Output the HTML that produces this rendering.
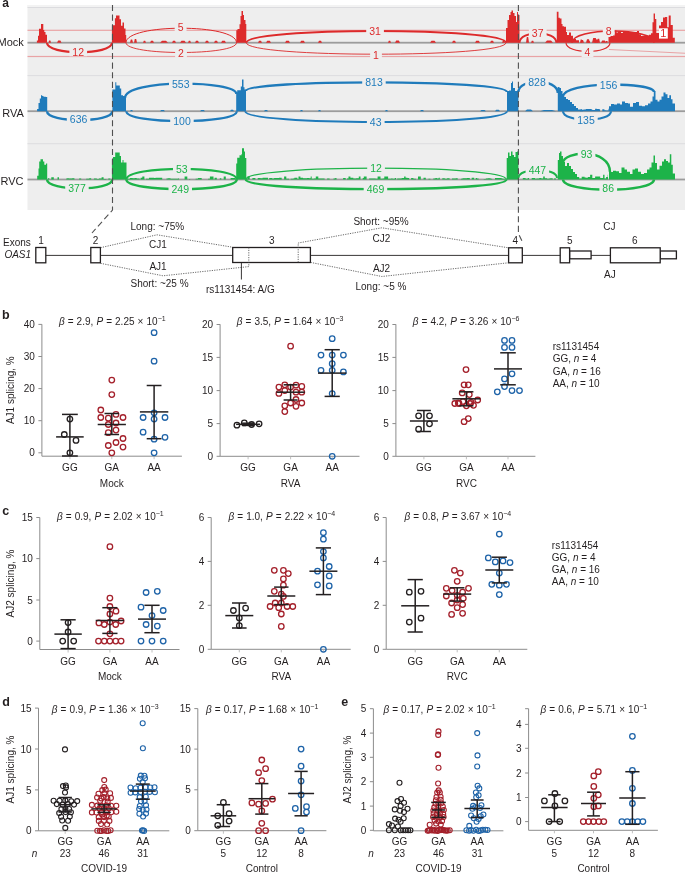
<!DOCTYPE html>
<html><head><meta charset="utf-8"><style>
html,body{margin:0;padding:0;background:#fff;}
svg{display:block;font-family:"Liberation Sans",sans-serif;will-change:transform;}
</style></head><body>
<svg width="685" height="873" viewBox="0 0 685 873">
<rect width="685" height="873" fill="#fff"/>
<rect x="27.5" y="5" width="657.5" height="205" fill="#eeeeee"/>
<rect x="27.5" y="5" width="657.5" height="2" fill="#f3f3f3"/>
<rect x="27.5" y="7.0" width="657.5" height="1" fill="#dcdcdf"/>
<rect x="27.5" y="75.1" width="657.5" height="1" fill="#dcdcdf"/>
<rect x="27.5" y="143.2" width="657.5" height="1" fill="#dcdcdf"/>
<rect x="27.5" y="29.7" width="657.5" height="1.2" fill="#e9a3a5"/>
<rect x="27.5" y="55.9" width="657.5" height="1.2" fill="#e9a3a5"/>
<path d="M609,49.5 L685,53.2" stroke="#e9a3a5" stroke-width="1.1" fill="none"/>
<rect x="27.5" y="41.800000000000004" width="657.5" height="1.8" fill="#9c9c9c"/>
<path d="M36.9,42.7 L36.9,40.4 L38.0,40.4 L38.0,35.8 L39.0,35.8 L39.0,28.7 L41.0,28.7 L41.0,24.1 L43.3,24.1 L43.3,30.1 L44.3,30.1 L44.3,32.0 L45.5,32.0 L45.5,34.8 L47.0,34.8 L47.0,42.7 Z" fill="#dd2a2b"/>
<path d="M48.5,42.7 L49.1,40.6 L50.4,40.6 L51,42.7 Z" fill="#dd2a2b"/><path d="M57,42.7 L58.1,40.4 L60.4,40.4 L61.5,42.7 Z" fill="#dd2a2b"/>
<path d="M111.9,42.7 L111.9,25.3 L114.9,25.3 L114.9,18.3 L116.0,18.3 L116.0,15.5 L119.5,15.5 L119.5,19.2 L121.0,19.2 L121.0,25.8 L122.5,25.8 L122.5,22.5 L124.0,22.5 L124.0,28.6 L125.5,28.6 L125.5,35.0 L126.2,35.0 L126.2,42.7 Z" fill="#dd2a2b"/>
<path d="M236.3,42.7 L236.3,30.3 L237.5,30.3 L237.5,28.9 L239.5,28.9 L239.5,24.2 L240.5,24.2 L240.5,16.0 L241.5,16.0 L241.5,11.1 L243.0,11.1 L243.0,14.9 L244.0,14.9 L244.0,20.0 L245.5,20.0 L245.5,24.0 L246.3,24.0 L246.3,42.7 Z" fill="#dd2a2b"/>
<path d="M506.0,42.7 L506.0,28.0 L507.5,28.0 L507.5,20.0 L509.0,20.0 L509.0,15.0 L510.5,15.0 L510.5,12.0 L511.5,12.0 L511.5,10.5 L513.0,10.5 L513.0,13.0 L514.5,13.0 L514.5,16.0 L516.0,16.0 L516.0,22.0 L517.0,22.0 L517.0,12.0 L518.0,12.0 L518.0,15.0 L519.5,15.0 L519.5,42.7 Z" fill="#dd2a2b"/>
<path d="M556.8,42.7 L556.8,11.8 L558.5,11.8 L558.5,17.7 L559.8,17.7 L559.8,18.6 L561.5,18.6 L561.5,24.0 L562.5,24.0 L562.5,26.3 L564.0,26.3 L564.0,26.7 L566.0,26.7 L566.0,32.1 L567.0,32.1 L567.0,34.9 L569.0,34.9 L569.0,32.6 L571.0,32.6 L571.0,35.8 L573.0,35.8 L573.0,38.9 L576.0,38.9 L576.0,40.3 L579.0,40.3 L579.0,42.7 Z" fill="#dd2a2b"/>
<path d="M130,42.7 L130.8,39.5 L132.2,39.5 L133,42.7 Z" fill="#dd2a2b"/><path d="M134,42.7 L134.8,39.0 L136.2,39.0 L137,42.7 Z" fill="#dd2a2b"/><path d="M143,42.7 L143.8,40.7 L145.2,40.7 L146,42.7 Z" fill="#dd2a2b"/><path d="M150,42.7 L151.0,40.7 L153.0,40.7 L154,42.7 Z" fill="#dd2a2b"/><path d="M160,42.7 L162.0,40.8 L166.0,40.8 L168,42.7 Z" fill="#dd2a2b"/><path d="M172,42.7 L173.0,40.8 L175.0,40.8 L176,42.7 Z" fill="#dd2a2b"/><path d="M180,42.7 L181.5,40.7 L184.5,40.7 L186,42.7 Z" fill="#dd2a2b"/><path d="M188,42.7 L188.8,40.8 L190.2,40.8 L191,42.7 Z" fill="#dd2a2b"/><path d="M195,42.7 L196.0,40.8 L198.0,40.8 L199,42.7 Z" fill="#dd2a2b"/><path d="M205,42.7 L206.0,40.7 L208.0,40.7 L209,42.7 Z" fill="#dd2a2b"/><path d="M214,42.7 L215.0,40.7 L217.0,40.7 L218,42.7 Z" fill="#dd2a2b"/><path d="M221,42.7 L222.2,40.7 L224.8,40.7 L226,42.7 Z" fill="#dd2a2b"/><path d="M258,42.7 L259.0,40.7 L261.0,40.7 L262,42.7 Z" fill="#dd2a2b"/><path d="M266,42.7 L267.2,40.7 L269.8,40.7 L271,42.7 Z" fill="#dd2a2b"/><path d="M285,42.7 L286.2,40.8 L288.8,40.8 L290,42.7 Z" fill="#dd2a2b"/><path d="M300,42.7 L301.2,40.8 L303.8,40.8 L305,42.7 Z" fill="#dd2a2b"/><path d="M318,42.7 L319.0,40.8 L321.0,40.8 L322,42.7 Z" fill="#dd2a2b"/><path d="M388,42.7 L388.8,40.8 L390.2,40.8 L391,42.7 Z" fill="#dd2a2b"/><path d="M395,42.7 L396.2,40.4 L398.8,40.4 L400,42.7 Z" fill="#dd2a2b"/><path d="M430,42.7 L431.5,40.8 L434.5,40.8 L436,42.7 Z" fill="#dd2a2b"/><path d="M452,42.7 L453.0,40.8 L455.0,40.8 L456,42.7 Z" fill="#dd2a2b"/><path d="M475,42.7 L476.2,40.8 L478.8,40.8 L480,42.7 Z" fill="#dd2a2b"/><path d="M490,42.7 L491.0,40.8 L493.0,40.8 L494,42.7 Z" fill="#dd2a2b"/><path d="M502,42.7 L502.8,40.9 L504.2,40.9 L505,42.7 Z" fill="#dd2a2b"/><path d="M526,42.7 L526.8,37.0 L528.2,37.0 L529,42.7 Z" fill="#dd2a2b"/><path d="M531,42.7 L531.8,40.8 L533.2,40.8 L534,42.7 Z" fill="#dd2a2b"/><path d="M545,42.7 L547.0,40.6 L551.0,40.6 L553,42.7 Z" fill="#dd2a2b"/><path d="M580,42.7 L581.0,40.1 L583.0,40.1 L584,42.7 Z" fill="#dd2a2b"/><path d="M586,42.7 L587.0,39.3 L589.0,39.3 L590,42.7 Z" fill="#dd2a2b"/><path d="M592,42.7 L593.2,38.0 L595.8,38.0 L597,42.7 Z" fill="#dd2a2b"/><path d="M597,42.7 L597.8,38.8 L599.2,38.8 L600,42.7 Z" fill="#dd2a2b"/><path d="M601,42.7 L602.2,40.4 L604.8,40.4 L606,42.7 Z" fill="#dd2a2b"/>
<path d="M579.0,42.7 L579.0,42.7 L580.6,42.7 L580.6,39.5 L581.8,39.5 L581.8,42.7 L583.8,42.7 L583.8,42.7 L584.9,42.7 L584.9,42.7 L587.6,42.7 L587.6,41.3 L589.9,41.3 L589.9,42.7 L592.8,42.7 L592.8,42.7 L594.4,42.7 L594.4,41.8 L596.0,41.8 L596.0,39.5 L598.3,39.5 L598.3,42.7 L599.4,42.7 L599.4,42.7 L601.3,42.7 L601.3,42.7 L603.2,42.7 L603.2,42.7 L605.6,42.7 L605.6,41.1 L607.6,41.1 L607.6,42.7 L608.0,42.7 L608.0,42.7 Z" fill="#dd2a2b"/>
<path d="M47,42.7 C47,55.36666666666667 112,55.36666666666667 112,42.7" fill="none" stroke="#dd2a2b" stroke-width="2.2"/>
<path d="M126,42.7 C126,23.366666666666664 236.5,23.366666666666664 236.5,42.7" fill="none" stroke="#dd2a2b" stroke-width="1.0"/>
<path d="M126,42.7 C126,55.766666666666666 236.5,55.766666666666666 236.5,42.7" fill="none" stroke="#dd2a2b" stroke-width="0.9"/>
<path d="M246.3,42.7 C246.3,27.1 506,27.1 506,42.7" fill="none" stroke="#dd2a2b" stroke-width="2.0"/>
<path d="M246.3,42.7 C246.3,58.03333333333334 506,58.03333333333334 506,42.7" fill="none" stroke="#dd2a2b" stroke-width="0.9"/>
<path d="M519.5,42.7 C519.5,30.03333333333334 556.4,30.03333333333334 556.4,42.7" fill="none" stroke="#dd2a2b" stroke-width="2.0"/>
<path d="M572,42.7 C572,27.1 654,27.1 654,42.7" fill="none" stroke="#dd2a2b" stroke-width="1.6"/>
<path d="M566,42.7 C566,54.43333333333333 610,54.43333333333333 610,42.7" fill="none" stroke="#dd2a2b" stroke-width="1.2"/>
<path d="M608.5,42.7 L608.5,37.0 L610.5,37.0 L610.5,35.9 L613.0,35.9 L613.0,34.3 L614.5,34.3 L614.5,30.4 L616.5,30.4 L616.5,32.6 L618.0,32.6 L618.0,31.5 L621.0,31.5 L621.0,33.0 L623.0,33.0 L623.0,31.8 L628.0,31.8 L628.0,32.0 L633.0,32.0 L633.0,33.0 L635.0,33.0 L635.0,32.0 L637.0,32.0 L637.0,31.0 L639.0,31.0 L639.0,34.3 L641.0,34.3 L641.0,35.9 L645.0,35.9 L645.0,35.4 L649.0,35.4 L649.0,34.8 L651.0,34.8 L651.0,33.2 L652.5,33.2 L652.5,22.2 L653.6,22.2 L653.6,13.5 L655.0,13.5 L655.0,19.0 L656.3,19.0 L656.3,33.0 L659.0,33.0 L659.0,25.5 L661.0,25.5 L661.0,22.0 L663.0,22.0 L663.0,17.5 L665.0,17.5 L665.0,17.0 L667.2,17.0 L667.2,27.3 L668.7,27.3 L668.7,15.5 L670.7,15.5 L670.7,25.0 L672.8,25.0 L672.8,37.8 L674.8,37.8 L674.8,42.7 Z" fill="#dd2a2b"/>
<rect x="69.4" y="47.3" width="17.7" height="9" fill="#eeeeee"/>
<text x="78.2" y="55.7" font-size="10.5" fill="#dd2a2b" text-anchor="middle">12</text>
<rect x="174.7" y="22.1" width="11.8" height="9" fill="#eeeeee"/>
<text x="180.6" y="30.5" font-size="10.5" fill="#dd2a2b" text-anchor="middle">5</text>
<rect x="175.1" y="48.8" width="11.8" height="9" fill="#eeeeee"/>
<text x="181" y="57.2" font-size="10.5" fill="#dd2a2b" text-anchor="middle">2</text>
<rect x="366.2" y="26.5" width="17.7" height="9" fill="#eeeeee"/>
<text x="375" y="34.9" font-size="10.5" fill="#dd2a2b" text-anchor="middle">31</text>
<rect x="370.1" y="50.7" width="11.8" height="9" fill="#eeeeee"/>
<text x="376" y="59.1" font-size="10.5" fill="#dd2a2b" text-anchor="middle">1</text>
<rect x="528.9" y="28.8" width="17.7" height="9" fill="#eeeeee"/>
<text x="537.7" y="37.2" font-size="10.5" fill="#dd2a2b" text-anchor="middle">37</text>
<rect x="602.8" y="26.5" width="11.8" height="9" fill="#eeeeee"/>
<text x="608.7" y="34.9" font-size="10.5" fill="#dd2a2b" text-anchor="middle">8</text>
<rect x="581.6" y="48.0" width="11.8" height="9" fill="#eeeeee"/>
<text x="587.5" y="56.4" font-size="10.5" fill="#dd2a2b" text-anchor="middle">4</text>
<rect x="659" y="28.3" width="8.8" height="10.3" fill="#ffffff"/>
<text x="663.4" y="37.2" font-size="11" fill="#dd2a2b" text-anchor="middle" >1</text>
<rect x="27.5" y="110.3" width="657.5" height="1.8" fill="#9c9c9c"/>
<path d="M37.1,111.2 L37.1,109.0 L38.5,109.0 L38.5,103.1 L39.8,103.1 L39.8,98.5 L41.0,98.5 L41.0,95.2 L42.2,95.2 L42.2,95.9 L43.5,95.9 L43.5,96.8 L45.8,96.8 L45.8,97.1 L47.2,97.1 L47.2,111.2 Z" fill="#1f7bbb"/>
<path d="M112.4,111.2 L112.4,89.5 L115.3,89.5 L115.3,82.3 L116.3,82.3 L116.3,85.4 L119.8,85.4 L119.8,88.6 L121.2,88.6 L121.2,95.2 L123.0,95.2 L123.0,96.0 L126.0,96.0 L126.0,111.2 Z" fill="#1f7bbb"/>
<path d="M236.2,111.2 L236.2,92.3 L237.2,92.3 L237.2,90.3 L240.8,90.3 L240.8,86.4 L242.0,86.4 L242.0,79.5 L243.5,79.5 L243.5,87.3 L244.5,87.3 L244.5,89.6 L246.0,89.6 L246.0,111.2 Z" fill="#1f7bbb"/>
<path d="M507.0,111.2 L507.0,91.0 L509.0,91.0 L509.0,90.4 L511.0,90.4 L511.0,83.0 L512.0,83.0 L512.0,81.6 L513.0,81.6 L513.0,88.0 L515.0,88.0 L515.0,91.0 L517.0,91.0 L517.0,90.4 L518.4,90.4 L518.4,111.2 Z" fill="#1f7bbb"/>
<path d="M557.8,111.2 L557.8,87.0 L559.5,87.0 L559.5,88.0 L561.0,88.0 L561.0,91.0 L562.5,91.0 L562.5,94.0 L564.0,94.0 L564.0,97.0 L566.0,97.0 L566.0,99.0 L568.0,99.0 L568.0,100.0 L570.0,100.0 L570.0,102.0 L572.0,102.0 L572.0,104.0 L574.0,104.0 L574.0,106.0 L576.0,106.0 L576.0,108.0 L578.0,108.0 L578.0,111.2 Z" fill="#1f7bbb"/>
<path d="M609.0,111.2 L609.0,106.3 L611.0,106.3 L611.0,104.1 L614.0,104.1 L614.0,104.6 L617.0,104.6 L617.0,103.5 L620.0,103.5 L620.0,104.6 L622.0,104.6 L622.0,101.4 L625.0,101.4 L625.0,103.0 L628.0,103.0 L628.0,103.5 L630.0,103.5 L630.0,106.8 L633.0,106.8 L633.0,103.0 L636.0,103.0 L636.0,101.9 L639.0,101.9 L639.0,105.7 L642.0,105.7 L642.0,106.3 L645.0,106.3 L645.0,105.2 L648.0,105.2 L648.0,103.5 L650.5,103.5 L650.5,101.4 L652.5,101.4 L652.5,96.4 L653.8,96.4 L653.8,91.0 L655.5,91.0 L655.5,99.7 L657.5,99.7 L657.5,101.4 L659.5,101.4 L659.5,99.7 L661.5,99.7 L661.5,96.4 L663.5,96.4 L663.5,92.6 L665.5,92.6 L665.5,94.2 L667.5,94.2 L667.5,98.0 L669.3,98.0 L669.3,95.3 L671.0,95.3 L671.0,99.2 L672.5,99.2 L672.5,103.5 L675.0,103.5 L675.0,111.2 Z" fill="#1f7bbb"/>
<path d="M130,111.2 L130.8,109.9 L132.2,109.9 L133,111.2 Z" fill="#1f7bbb"/><path d="M160,111.2 L161.2,110.0 L163.8,110.0 L165,111.2 Z" fill="#1f7bbb"/><path d="M200,111.2 L201.2,110.0 L203.8,110.0 L205,111.2 Z" fill="#1f7bbb"/><path d="M230,111.2 L231.0,109.8 L233.0,109.8 L234,111.2 Z" fill="#1f7bbb"/><path d="M264,111.2 L265.0,110.0 L267.0,110.0 L268,111.2 Z" fill="#1f7bbb"/><path d="M300,111.2 L300.8,110.0 L302.2,110.0 L303,111.2 Z" fill="#1f7bbb"/><path d="M318,111.2 L318.8,110.0 L320.2,110.0 L321,111.2 Z" fill="#1f7bbb"/><path d="M385,111.2 L385.8,110.0 L387.2,110.0 L388,111.2 Z" fill="#1f7bbb"/><path d="M420,111.2 L421.0,110.0 L423.0,110.0 L424,111.2 Z" fill="#1f7bbb"/><path d="M480,111.2 L481.5,110.0 L484.5,110.0 L486,111.2 Z" fill="#1f7bbb"/><path d="M495,111.2 L496.2,109.8 L498.8,109.8 L500,111.2 Z" fill="#1f7bbb"/><path d="M525,111.2 L527.0,109.5 L531.0,109.5 L533,111.2 Z" fill="#1f7bbb"/><path d="M540,111.2 L544.0,110.0 L552.0,110.0 L556,111.2 Z" fill="#1f7bbb"/><path d="M580,111.2 L580.8,109.3 L582.2,109.3 L583,111.2 Z" fill="#1f7bbb"/>
<path d="M578.0,111.2 L578.0,109.5 L580.6,109.5 L580.6,109.6 L581.6,109.6 L581.6,109.9 L583.3,109.9 L583.3,109.4 L585.8,109.4 L585.8,109.0 L587.2,109.0 L587.2,108.9 L589.8,108.9 L589.8,109.0 L591.0,109.0 L591.0,109.3 L592.2,109.3 L592.2,110.0 L595.1,110.0 L595.1,108.8 L596.8,108.8 L596.8,109.0 L599.1,109.0 L599.1,109.3 L600.1,109.3 L600.1,111.2 L602.3,111.2 L602.3,109.2 L604.4,109.2 L604.4,110.2 L605.8,110.2 L605.8,110.4 L608.5,110.4 L608.5,108.8 L609.0,108.8 L609.0,111.2 Z" fill="#1f7bbb"/>
<path d="M47,111.2 C47,122.93333333333334 112.3,122.93333333333334 112.3,111.2" fill="none" stroke="#1f7bbb" stroke-width="2.4"/>
<path d="M125,98 C125,78.8 236.4,80.13333333333333 236.4,94" fill="none" stroke="#1f7bbb" stroke-width="2.4"/>
<path d="M126.3,111.2 C126.3,124.53333333333333 236.8,124.53333333333333 236.8,111.2" fill="none" stroke="#1f7bbb" stroke-width="2.2"/>
<path d="M245.8,91 C245.8,79.53333333333335 507,79.2 507,92" fill="none" stroke="#1f7bbb" stroke-width="2.4"/>
<path d="M245.2,111.2 C245.2,125.6 507,125.6 507,111.2" fill="none" stroke="#1f7bbb" stroke-width="2.0"/>
<path d="M518.4,92 C518.4,78.26666666666667 557.8,77.93333333333334 557.8,93" fill="none" stroke="#1f7bbb" stroke-width="2.4"/>
<path d="M563,97 C563,80.46666666666665 654,82.13333333333333 654,92" fill="none" stroke="#1f7bbb" stroke-width="2.4"/>
<path d="M563,111.2 C563,122.39999999999999 611,122.39999999999999 611,111.2" fill="none" stroke="#1f7bbb" stroke-width="2.2"/>
<rect x="66.8" y="115.0" width="23.5" height="9" fill="#eeeeee"/>
<text x="78.6" y="123.4" font-size="10.5" fill="#1f7bbb" text-anchor="middle">636</text>
<rect x="169.0" y="79.7" width="23.5" height="9" fill="#eeeeee"/>
<text x="180.8" y="88.1" font-size="10.5" fill="#1f7bbb" text-anchor="middle">553</text>
<rect x="170.2" y="116.5" width="23.5" height="9" fill="#eeeeee"/>
<text x="182" y="124.9" font-size="10.5" fill="#1f7bbb" text-anchor="middle">100</text>
<rect x="362.2" y="77.7" width="23.5" height="9" fill="#eeeeee"/>
<text x="374" y="86.1" font-size="10.5" fill="#1f7bbb" text-anchor="middle">813</text>
<rect x="366.9" y="117.5" width="17.7" height="9" fill="#eeeeee"/>
<text x="375.7" y="125.9" font-size="10.5" fill="#1f7bbb" text-anchor="middle">43</text>
<rect x="525.2" y="77.1" width="23.5" height="9" fill="#eeeeee"/>
<text x="537" y="85.5" font-size="10.5" fill="#1f7bbb" text-anchor="middle">828</text>
<rect x="596.8" y="80.6" width="23.5" height="9" fill="#eeeeee"/>
<text x="608.6" y="89.0" font-size="10.5" fill="#1f7bbb" text-anchor="middle">156</text>
<rect x="574.2" y="115.1" width="23.5" height="9" fill="#eeeeee"/>
<text x="586" y="123.5" font-size="10.5" fill="#1f7bbb" text-anchor="middle">135</text>
<rect x="27.5" y="178.6" width="657.5" height="1.8" fill="#9c9c9c"/>
<path d="M37.2,179.5 L37.2,175.8 L38.5,175.8 L38.5,168.4 L39.2,168.4 L39.2,161.4 L40.5,161.4 L40.5,159.3 L43.0,159.3 L43.0,161.5 L44.3,161.5 L44.3,164.7 L46.0,164.7 L46.0,163.5 L47.2,163.5 L47.2,179.5 Z" fill="#1db349"/>
<path d="M111.9,179.5 L111.9,159.2 L113.0,159.2 L113.0,156.9 L115.2,156.9 L115.2,152.4 L119.7,152.4 L119.7,155.9 L121.0,155.9 L121.0,162.5 L122.5,162.5 L122.5,160.0 L123.5,160.0 L123.5,162.5 L126.5,162.5 L126.5,179.5 Z" fill="#1db349"/>
<path d="M236.2,179.5 L236.2,163.5 L237.2,163.5 L237.2,157.8 L239.5,157.8 L239.5,155.3 L241.5,155.3 L241.5,153.9 L242.0,153.9 L242.0,148.2 L244.0,148.2 L244.0,151.6 L245.0,151.6 L245.0,158.0 L246.3,158.0 L246.3,179.5 Z" fill="#1db349"/>
<path d="M506.7,179.5 L506.7,158.0 L508.0,158.0 L508.0,152.5 L509.5,152.5 L509.5,156.0 L511.0,156.0 L511.0,151.4 L512.5,151.4 L512.5,155.0 L514.0,155.0 L514.0,157.0 L515.5,157.0 L515.5,152.0 L517.0,152.0 L517.0,151.4 L518.4,151.4 L518.4,179.5 Z" fill="#1db349"/>
<path d="M557.8,179.5 L557.8,160.0 L559.0,160.0 L559.0,153.0 L560.0,153.0 L560.0,151.4 L561.5,151.4 L561.5,156.0 L563.0,156.0 L563.0,162.0 L565.0,162.0 L565.0,166.0 L567.0,166.0 L567.0,163.0 L569.0,163.0 L569.0,166.0 L571.0,166.0 L571.0,169.0 L573.0,169.0 L573.0,172.0 L575.0,172.0 L575.0,174.0 L577.0,174.0 L577.0,179.5 Z" fill="#1db349"/>
<path d="M609.0,179.5 L609.0,170.2 L611.0,170.2 L611.0,172.0 L613.0,172.0 L613.0,170.7 L616.0,170.7 L616.0,171.3 L619.0,171.3 L619.0,172.9 L621.5,172.9 L621.5,167.4 L624.5,167.4 L624.5,169.6 L627.0,169.6 L627.0,171.8 L630.0,171.8 L630.0,174.0 L632.5,174.0 L632.5,169.6 L635.0,169.6 L635.0,168.5 L638.0,168.5 L638.0,171.8 L641.0,171.8 L641.0,174.0 L644.0,174.0 L644.0,172.9 L647.0,172.9 L647.0,169.6 L649.5,169.6 L649.5,167.4 L651.5,167.4 L651.5,162.5 L653.5,162.5 L653.5,155.4 L655.0,155.4 L655.0,163.0 L657.0,163.0 L657.0,169.6 L659.5,169.6 L659.5,165.8 L662.0,165.8 L662.0,161.4 L664.0,161.4 L664.0,159.2 L666.0,159.2 L666.0,160.9 L668.0,160.9 L668.0,162.5 L669.8,162.5 L669.8,154.3 L671.3,154.3 L671.3,164.7 L672.8,164.7 L672.8,173.5 L675.0,173.5 L675.0,179.5 Z" fill="#1db349"/>
<path d="M48.0,179.5 L48.0,178.3 L49.3,178.3 L49.3,179.5 L51.3,179.5 L51.3,177.3 L53.8,177.3 L53.8,179.5 L56.5,179.5 L56.5,179.5 L57.5,179.5 L57.5,177.3 L59.0,177.3 L59.0,179.5 L60.0,179.5 L60.0,179.5 L61.8,179.5 L61.8,179.5 L62.8,179.5 L62.8,179.5 L64.8,179.5 L64.8,179.5 L66.3,179.5 L66.3,178.5 L67.3,178.5 L67.3,178.2 L68.7,178.2 L68.7,178.4 L70.4,178.4 L70.4,178.4 L72.2,178.4 L72.2,178.3 L74.4,178.3 L74.4,179.5 L76.5,179.5 L76.5,179.5 L79.1,179.5 L79.1,178.4 L81.2,178.4 L81.2,179.5 L83.1,179.5 L83.1,179.5 L85.2,179.5 L85.2,179.5 L86.2,179.5 L86.2,178.7 L89.2,178.7 L89.2,178.3 L91.2,178.3 L91.2,179.5 L93.9,179.5 L93.9,178.6 L96.8,178.6 L96.8,179.1 L98.9,179.1 L98.9,178.4 L101.6,178.4 L101.6,177.3 L103.6,177.3 L103.6,178.9 L106.3,178.9 L106.3,179.5 L108.3,179.5 L108.3,178.5 L110.4,178.5 L110.4,179.5 L111.0,179.5 L111.0,179.5 Z" fill="#1db349"/>
<path d="M127.0,179.5 L127.0,178.8 L129.9,178.8 L129.9,178.1 L132.6,178.1 L132.6,178.2 L134.8,178.2 L134.8,178.0 L136.7,178.0 L136.7,178.4 L139.6,178.4 L139.6,179.5 L140.6,179.5 L140.6,177.8 L142.3,177.8 L142.3,176.6 L144.4,176.6 L144.4,179.5 L146.0,179.5 L146.0,178.7 L149.0,178.7 L149.0,177.8 L151.6,177.8 L151.6,177.7 L154.2,177.7 L154.2,178.0 L155.5,178.0 L155.5,177.8 L157.6,177.8 L157.6,177.8 L160.3,177.8 L160.3,177.8 L162.2,177.8 L162.2,179.5 L164.1,179.5 L164.1,179.5 L166.5,179.5 L166.5,178.5 L168.1,178.5 L168.1,178.3 L170.5,178.3 L170.5,178.7 L172.7,178.7 L172.7,178.8 L175.5,178.8 L175.5,178.7 L178.0,178.7 L178.0,178.6 L179.1,178.6 L179.1,179.5 L181.9,179.5 L181.9,179.5 L184.6,179.5 L184.6,176.6 L187.3,176.6 L187.3,179.5 L189.1,179.5 L189.1,178.9 L190.2,178.9 L190.2,179.5 L191.3,179.5 L191.3,179.5 L192.6,179.5 L192.6,179.5 L194.3,179.5 L194.3,179.5 L195.6,179.5 L195.6,178.8 L197.9,178.8 L197.9,178.0 L198.9,178.0 L198.9,177.9 L201.7,177.9 L201.7,179.5 L203.7,179.5 L203.7,179.5 L205.3,179.5 L205.3,179.5 L208.1,179.5 L208.1,178.7 L209.9,178.7 L209.9,176.6 L211.4,176.6 L211.4,176.6 L213.5,176.6 L213.5,179.5 L214.6,179.5 L214.6,177.7 L216.8,177.7 L216.8,179.5 L219.8,179.5 L219.8,178.2 L221.3,178.2 L221.3,179.5 L223.7,179.5 L223.7,176.6 L225.8,176.6 L225.8,179.5 L227.6,179.5 L227.6,179.5 L229.1,179.5 L229.1,179.5 L230.6,179.5 L230.6,178.1 L232.5,178.1 L232.5,178.0 L235.3,178.0 L235.3,178.8 L236.0,178.8 L236.0,179.5 Z" fill="#1db349"/>
<path d="M246.0,179.5 L246.0,178.5 L247.5,178.5 L247.5,176.6 L249.7,176.6 L249.7,179.5 L252.4,179.5 L252.4,177.9 L255.4,177.9 L255.4,179.5 L257.7,179.5 L257.7,178.0 L260.4,178.0 L260.4,178.2 L261.5,178.2 L261.5,178.3 L262.6,178.3 L262.6,177.8 L265.4,177.8 L265.4,177.8 L268.0,177.8 L268.0,179.5 L269.2,179.5 L269.2,178.1 L272.1,178.1 L272.1,178.5 L274.1,178.5 L274.1,178.1 L276.3,178.1 L276.3,178.1 L279.0,178.1 L279.0,177.8 L281.7,177.8 L281.7,179.5 L284.1,179.5 L284.1,176.6 L286.3,176.6 L286.3,178.8 L289.0,178.8 L289.0,179.5 L290.8,179.5 L290.8,178.8 L293.3,178.8 L293.3,178.5 L294.4,178.5 L294.4,177.7 L297.4,177.7 L297.4,178.9 L298.5,178.9 L298.5,176.6 L300.4,176.6 L300.4,177.7 L303.1,177.7 L303.1,178.3 L304.9,178.3 L304.9,178.2 L307.0,178.2 L307.0,178.0 L309.1,178.0 L309.1,178.3 L310.7,178.3 L310.7,176.6 L311.7,176.6 L311.7,178.8 L313.9,178.8 L313.9,178.5 L315.8,178.5 L315.8,176.6 L318.3,176.6 L318.3,178.6 L320.7,178.6 L320.7,178.5 L322.9,178.5 L322.9,178.5 L324.6,178.5 L324.6,179.5 L327.1,179.5 L327.1,178.6 L329.6,178.6 L329.6,179.5 L331.1,179.5 L331.1,179.5 L333.5,179.5 L333.5,178.4 L335.2,178.4 L335.2,178.1 L336.5,178.1 L336.5,179.5 L338.4,179.5 L338.4,179.5 L340.5,179.5 L340.5,179.5 L343.1,179.5 L343.1,177.9 L345.7,177.9 L345.7,179.5 L347.0,179.5 L347.0,178.4 L348.5,178.4 L348.5,176.6 L350.4,176.6 L350.4,177.7 L353.3,177.7 L353.3,178.6 L356.2,178.6 L356.2,178.3 L358.8,178.3 L358.8,176.6 L360.5,176.6 L360.5,179.5 L362.7,179.5 L362.7,178.1 L363.8,178.1 L363.8,176.6 L366.6,176.6 L366.6,179.5 L369.1,179.5 L369.1,178.4 L371.4,178.4 L371.4,178.6 L373.6,178.6 L373.6,178.5 L375.6,178.5 L375.6,178.7 L377.6,178.7 L377.6,176.6 L380.5,176.6 L380.5,178.8 L382.7,178.8 L382.7,178.4 L384.3,178.4 L384.3,176.6 L386.8,176.6 L386.8,176.6 L388.1,176.6 L388.1,178.8 L391.0,178.8 L391.0,178.5 L392.7,178.5 L392.7,178.7 L394.8,178.7 L394.8,178.0 L396.1,178.0 L396.1,179.5 L397.2,179.5 L397.2,178.4 L399.5,178.4 L399.5,178.5 L401.7,178.5 L401.7,178.1 L404.1,178.1 L404.1,176.6 L405.6,176.6 L405.6,177.8 L407.4,177.8 L407.4,178.0 L409.2,178.0 L409.2,179.5 L411.1,179.5 L411.1,177.9 L413.4,177.9 L413.4,178.8 L415.9,178.8 L415.9,179.5 L416.9,179.5 L416.9,179.5 L418.0,179.5 L418.0,176.6 L420.8,176.6 L420.8,179.5 L423.5,179.5 L423.5,177.8 L425.8,177.8 L425.8,179.5 L428.4,179.5 L428.4,178.8 L430.4,178.8 L430.4,179.5 L433.3,179.5 L433.3,178.6 L435.4,178.6 L435.4,178.0 L436.9,178.0 L436.9,178.5 L438.7,178.5 L438.7,177.7 L439.8,177.7 L439.8,179.5 L442.3,179.5 L442.3,178.3 L444.8,178.3 L444.8,178.7 L447.1,178.7 L447.1,178.3 L449.6,178.3 L449.6,179.5 L452.0,179.5 L452.0,178.5 L453.4,178.5 L453.4,178.5 L455.8,178.5 L455.8,178.2 L457.7,178.2 L457.7,179.5 L459.1,179.5 L459.1,179.5 L460.9,179.5 L460.9,178.7 L462.5,178.7 L462.5,178.3 L464.5,178.3 L464.5,178.3 L467.1,178.3 L467.1,178.0 L469.8,178.0 L469.8,179.5 L471.7,179.5 L471.7,177.7 L474.2,177.7 L474.2,179.5 L475.7,179.5 L475.7,177.9 L477.0,177.9 L477.0,178.5 L478.6,178.5 L478.6,179.5 L481.0,179.5 L481.0,179.5 L483.7,179.5 L483.7,178.9 L485.8,178.9 L485.8,178.6 L487.7,178.6 L487.7,178.2 L490.6,178.2 L490.6,178.8 L492.2,178.8 L492.2,179.5 L495.0,179.5 L495.0,178.0 L496.7,178.0 L496.7,177.9 L499.1,177.9 L499.1,178.1 L501.6,178.1 L501.6,178.5 L502.8,178.5 L502.8,178.7 L505.2,178.7 L505.2,179.5 L506.0,179.5 L506.0,179.5 Z" fill="#1db349"/>
<path d="M520.0,179.5 L520.0,179.5 L521.5,179.5 L521.5,179.5 L522.8,179.5 L522.8,178.0 L525.6,178.0 L525.6,178.7 L527.7,178.7 L527.7,177.9 L529.1,177.9 L529.1,179.5 L531.7,179.5 L531.7,177.9 L534.0,177.9 L534.0,178.1 L535.1,178.1 L535.1,178.8 L536.5,178.8 L536.5,178.5 L539.2,178.5 L539.2,177.9 L541.4,177.9 L541.4,178.4 L543.2,178.4 L543.2,176.6 L544.8,176.6 L544.8,178.3 L547.1,178.3 L547.1,178.7 L548.8,178.7 L548.8,178.6 L550.2,178.6 L550.2,178.2 L552.7,178.2 L552.7,179.5 L553.9,179.5 L553.9,178.6 L556.0,178.6 L556.0,179.5 Z" fill="#1db349"/>
<path d="M577.0,179.5 L577.0,176.9 L579.2,176.9 L579.2,178.4 L581.7,178.4 L581.7,176.7 L584.6,176.7 L584.6,177.4 L586.6,177.4 L586.6,177.9 L587.6,177.9 L587.6,176.9 L590.1,176.9 L590.1,174.7 L592.3,174.7 L592.3,178.1 L595.1,178.1 L595.1,176.6 L597.8,176.6 L597.8,176.6 L600.2,176.6 L600.2,177.9 L603.1,177.9 L603.1,174.7 L604.5,174.7 L604.5,178.5 L606.1,178.5 L606.1,176.9 L607.7,176.9 L607.7,174.7 L608.0,174.7 L608.0,179.5 Z" fill="#1db349"/>
<path d="M47,179.5 C47,191.23333333333335 112.3,191.23333333333335 112.3,179.5" fill="none" stroke="#1db349" stroke-width="2.4"/>
<path d="M126.3,179.5 C126.3,165.23333333333335 236.8,165.23333333333335 236.8,179.5" fill="none" stroke="#1db349" stroke-width="2.2"/>
<path d="M126.3,179.5 C126.3,192.4333333333333 236.8,192.4333333333333 236.8,179.5" fill="none" stroke="#1db349" stroke-width="2.4"/>
<path d="M245.7,179.5 C245.7,164.4333333333333 506.5,164.4333333333333 506.5,179.5" fill="none" stroke="#1db349" stroke-width="1.3"/>
<path d="M245.7,179.5 C245.7,192.29999999999998 506.5,192.29999999999998 506.5,179.5" fill="none" stroke="#1db349" stroke-width="2.4"/>
<path d="M518.4,178 C518.4,167.33333333333334 557,167.33333333333334 557,178" fill="none" stroke="#1db349" stroke-width="2.0"/>
<path d="M563,163 C563,150.73333333333335 610,147.73333333333335 610,172" fill="none" stroke="#1db349" stroke-width="2.4"/>
<path d="M563,179.5 C563,193.1 654,193.1 654,179.5" fill="none" stroke="#1db349" stroke-width="2.4"/>
<rect x="65.2" y="183.7" width="23.5" height="9" fill="#eeeeee"/>
<text x="77" y="192.1" font-size="10.5" fill="#1db349" text-anchor="middle">377</text>
<rect x="173.0" y="164.1" width="17.7" height="9" fill="#eeeeee"/>
<text x="181.8" y="172.5" font-size="10.5" fill="#1db349" text-anchor="middle">53</text>
<rect x="168.5" y="184.5" width="23.5" height="9" fill="#eeeeee"/>
<text x="180.3" y="192.9" font-size="10.5" fill="#1db349" text-anchor="middle">249</text>
<rect x="367.2" y="163.7" width="17.7" height="9" fill="#eeeeee"/>
<text x="376" y="172.1" font-size="10.5" fill="#1db349" text-anchor="middle">12</text>
<rect x="363.7" y="184.6" width="23.5" height="9" fill="#eeeeee"/>
<text x="375.5" y="193.0" font-size="10.5" fill="#1db349" text-anchor="middle">469</text>
<rect x="525.6" y="165.3" width="23.5" height="9" fill="#eeeeee"/>
<text x="537.4" y="173.7" font-size="10.5" fill="#1db349" text-anchor="middle">447</text>
<rect x="577.7" y="149.2" width="17.7" height="9" fill="#eeeeee"/>
<text x="586.5" y="157.6" font-size="10.5" fill="#1db349" text-anchor="middle">93</text>
<rect x="599.4" y="183.9" width="17.7" height="9" fill="#eeeeee"/>
<text x="608.2" y="192.3" font-size="10.5" fill="#1db349" text-anchor="middle">86</text>
<path d="M112.5,5 L112.5,210 L92,233" fill="none" stroke="#505050" stroke-width="1.1" stroke-dasharray="6.1,3.5"/>
<path d="M518.4,5 L518.4,233.5 L522,241" fill="none" stroke="#505050" stroke-width="1.1" stroke-dasharray="6.1,3.5"/>
<text x="23.8" y="45.9" font-size="11" fill="#231f20" text-anchor="end" >Mock</text>
<text x="23.8" y="116.9" font-size="11" fill="#231f20" text-anchor="end" >RVA</text>
<text x="23.5" y="184.7" font-size="11" fill="#231f20" text-anchor="end" >RVC</text>
<text x="2.2" y="6.7" font-size="12" fill="#231f20" text-anchor="start" font-weight="bold">a</text>
<line x1="40" y1="255.4" x2="668" y2="255.4" stroke="#231f20" stroke-width="0.9"/>
<rect x="35.8" y="247.5" width="10.0" height="15.300000000000011" fill="#fff" stroke="#231f20" stroke-width="1.3"/>
<rect x="90.8" y="247.5" width="9.600000000000009" height="15.300000000000011" fill="#fff" stroke="#231f20" stroke-width="1.3"/>
<rect x="232.7" y="247.5" width="77.69999999999999" height="15.0" fill="#fff" stroke="#231f20" stroke-width="1.3"/>
<rect x="508.6" y="247.8" width="13.699999999999932" height="15.0" fill="#fff" stroke="#231f20" stroke-width="1.3"/>
<rect x="569.6" y="251" width="21.5" height="7.800000000000011" fill="#fff" stroke="#231f20" stroke-width="1.3"/>
<rect x="560.2" y="247.8" width="9.399999999999977" height="15.0" fill="#fff" stroke="#231f20" stroke-width="1.3"/>
<rect x="660.2" y="251" width="16.199999999999932" height="7.800000000000011" fill="#fff" stroke="#231f20" stroke-width="1.3"/>
<rect x="610.4" y="247.8" width="49.80000000000007" height="15.0" fill="#fff" stroke="#231f20" stroke-width="1.3"/>
<path d="M100.5,247.7 L157,234.8 L232.5,247.2" stroke="#444" stroke-width="0.8" stroke-dasharray="1.2,1.2" fill="none"/>
<path d="M100.5,263.3 L163,275.8 L248.8,266.6 L248.8,247.5" stroke="#444" stroke-width="0.8" stroke-dasharray="1.2,1.2" fill="none"/>
<path d="M298.2,262.4 L298.2,243 L381.8,227.8 L508.4,247.8" stroke="#444" stroke-width="0.8" stroke-dasharray="1.2,1.2" fill="none"/>
<path d="M310.6,262.4 L381.8,276.5 L508.4,262.8" stroke="#444" stroke-width="0.8" stroke-dasharray="1.2,1.2" fill="none"/>
<line x1="241.4" y1="262.4" x2="241.4" y2="279.5" stroke="#231f20" stroke-width="0.9"/>
<text x="3" y="246" font-size="10" fill="#231f20" text-anchor="start" >Exons</text>
<text x="4.4" y="258.4" font-size="10" fill="#231f20" text-anchor="start" font-style="italic">OAS1</text>
<text x="41" y="244" font-size="10" fill="#231f20" text-anchor="middle" >1</text>
<text x="95.6" y="244" font-size="10" fill="#231f20" text-anchor="middle" >2</text>
<text x="271.8" y="244" font-size="10" fill="#231f20" text-anchor="middle" >3</text>
<text x="515.4" y="244" font-size="10" fill="#231f20" text-anchor="middle" >4</text>
<text x="569.7" y="244" font-size="10" fill="#231f20" text-anchor="middle" >5</text>
<text x="634.8" y="244" font-size="10" fill="#231f20" text-anchor="middle" >6</text>
<text x="130.5" y="230" font-size="10" fill="#231f20" text-anchor="start" >Long: ~75%</text>
<text x="158" y="248" font-size="10" fill="#231f20" text-anchor="middle" >CJ1</text>
<text x="158" y="269.6" font-size="10" fill="#231f20" text-anchor="middle" >AJ1</text>
<text x="130.5" y="287.2" font-size="10" fill="#231f20" text-anchor="start" >Short: ~25 %</text>
<text x="206" y="292.8" font-size="10" fill="#231f20" text-anchor="start" >rs1131454: A/G</text>
<text x="353.4" y="224.9" font-size="10" fill="#231f20" text-anchor="start" >Short: ~95%</text>
<text x="381.5" y="242" font-size="10" fill="#231f20" text-anchor="middle" >CJ2</text>
<text x="381.5" y="272" font-size="10" fill="#231f20" text-anchor="middle" >AJ2</text>
<text x="355.5" y="290" font-size="10" fill="#231f20" text-anchor="start" >Long: ~5 %</text>
<text x="603.3" y="230.4" font-size="10" fill="#231f20" text-anchor="start" >CJ</text>
<text x="604" y="277.7" font-size="10" fill="#231f20" text-anchor="start" >AJ</text>
<text x="2.1" y="319" font-size="12.5" fill="#231f20" text-anchor="start" font-weight="bold">b</text>
<text x="14.3" y="390.2" font-size="10" fill="#231f20" text-anchor="middle" transform="rotate(-90 14.3 390.2)">AJ1 splicing, %</text>
<line x1="41.9" y1="324.3" x2="41.9" y2="456.2" stroke="#8c8c8c" stroke-width="1"/>
<line x1="41.9" y1="456.2" x2="181.9" y2="456.2" stroke="#8c8c8c" stroke-width="1"/>
<line x1="38.4" y1="324.4" x2="41.9" y2="324.4" stroke="#8c8c8c" stroke-width="1"/>
<text x="34.9" y="328.0" font-size="10" fill="#231f20" text-anchor="end" >40</text>
<line x1="38.4" y1="356.5" x2="41.9" y2="356.5" stroke="#8c8c8c" stroke-width="1"/>
<text x="34.9" y="360.1" font-size="10" fill="#231f20" text-anchor="end" >30</text>
<line x1="38.4" y1="388.6" x2="41.9" y2="388.6" stroke="#8c8c8c" stroke-width="1"/>
<text x="34.9" y="392.20000000000005" font-size="10" fill="#231f20" text-anchor="end" >20</text>
<line x1="38.4" y1="420.7" x2="41.9" y2="420.7" stroke="#8c8c8c" stroke-width="1"/>
<text x="34.9" y="424.3" font-size="10" fill="#231f20" text-anchor="end" >10</text>
<line x1="38.4" y1="452.8" x2="41.9" y2="452.8" stroke="#8c8c8c" stroke-width="1"/>
<text x="34.9" y="456.40000000000003" font-size="10" fill="#231f20" text-anchor="end" >0</text>
<line x1="69.9" y1="456.2" x2="69.9" y2="459.2" stroke="#b0b0b0" stroke-width="0.8"/>
<line x1="111.8" y1="456.2" x2="111.8" y2="459.2" stroke="#b0b0b0" stroke-width="0.8"/>
<line x1="154.1" y1="456.2" x2="154.1" y2="459.2" stroke="#b0b0b0" stroke-width="0.8"/>
<text x="69.9" y="470.9" font-size="10" fill="#231f20" text-anchor="middle" >GG</text>
<text x="111.8" y="470.9" font-size="10" fill="#231f20" text-anchor="middle" >GA</text>
<text x="154.1" y="470.9" font-size="10" fill="#231f20" text-anchor="middle" >AA</text>
<text x="111.8" y="486.9" font-size="10" fill="#231f20" text-anchor="middle" >Mock</text>
<text x="58.9" y="325.3" font-size="10" fill="#231f20" word-spacing="0.3"><tspan font-style="italic">β</tspan> = 2.9, <tspan font-style="italic">P</tspan> = 2.25 × 10<tspan dy="-4.3" font-size="7">−1</tspan></text>
<circle cx="69.9" cy="419.1" r="2.75" fill="none" stroke="#231f20" stroke-width="1.3"/>
<circle cx="64.3" cy="434.5" r="2.75" fill="none" stroke="#231f20" stroke-width="1.3"/>
<circle cx="76.0" cy="440.4" r="2.75" fill="none" stroke="#231f20" stroke-width="1.3"/>
<circle cx="69.9" cy="452.8" r="2.75" fill="none" stroke="#231f20" stroke-width="1.3"/>
<line x1="69.9" y1="414.4" x2="69.9" y2="456" stroke="#231f20" stroke-width="1.5"/>
<line x1="62.00000000000001" y1="414.4" x2="77.80000000000001" y2="414.4" stroke="#231f20" stroke-width="1.5"/>
<line x1="62.00000000000001" y1="456" x2="77.80000000000001" y2="456" stroke="#231f20" stroke-width="1.5"/>
<line x1="56.10000000000001" y1="436.9" x2="83.7" y2="436.9" stroke="#231f20" stroke-width="1.5"/>
<circle cx="111.8" cy="380.1" r="2.75" fill="none" stroke="#a4202b" stroke-width="1.3"/>
<circle cx="111.8" cy="394.6" r="2.75" fill="none" stroke="#a4202b" stroke-width="1.3"/>
<circle cx="100.8" cy="410.0" r="2.75" fill="none" stroke="#a4202b" stroke-width="1.3"/>
<circle cx="100.8" cy="417.5" r="2.75" fill="none" stroke="#a4202b" stroke-width="1.3"/>
<circle cx="108.3" cy="418.2" r="2.75" fill="none" stroke="#a4202b" stroke-width="1.3"/>
<circle cx="116.0" cy="414.4" r="2.75" fill="none" stroke="#a4202b" stroke-width="1.3"/>
<circle cx="123.0" cy="417.5" r="2.75" fill="none" stroke="#a4202b" stroke-width="1.3"/>
<circle cx="108.3" cy="424.5" r="2.75" fill="none" stroke="#a4202b" stroke-width="1.3"/>
<circle cx="116.0" cy="423.0" r="2.75" fill="none" stroke="#a4202b" stroke-width="1.3"/>
<circle cx="108.3" cy="432.7" r="2.75" fill="none" stroke="#a4202b" stroke-width="1.3"/>
<circle cx="116.0" cy="430.1" r="2.75" fill="none" stroke="#a4202b" stroke-width="1.3"/>
<circle cx="123.0" cy="438.5" r="2.75" fill="none" stroke="#a4202b" stroke-width="1.3"/>
<circle cx="116.0" cy="442.5" r="2.75" fill="none" stroke="#a4202b" stroke-width="1.3"/>
<circle cx="108.3" cy="445.5" r="2.75" fill="none" stroke="#a4202b" stroke-width="1.3"/>
<circle cx="123.0" cy="447.1" r="2.75" fill="none" stroke="#a4202b" stroke-width="1.3"/>
<circle cx="111.8" cy="452.8" r="2.75" fill="none" stroke="#a4202b" stroke-width="1.3"/>
<line x1="111.8" y1="413.5" x2="111.8" y2="434.5" stroke="#231f20" stroke-width="1.5"/>
<line x1="104.5" y1="413.5" x2="119.1" y2="413.5" stroke="#231f20" stroke-width="1.5"/>
<line x1="104.5" y1="434.5" x2="119.1" y2="434.5" stroke="#231f20" stroke-width="1.5"/>
<line x1="97.7" y1="424.5" x2="125.89999999999999" y2="424.5" stroke="#231f20" stroke-width="1.5"/>
<circle cx="154.1" cy="332.7" r="2.75" fill="none" stroke="#1e63a8" stroke-width="1.3"/>
<circle cx="154.1" cy="361.2" r="2.75" fill="none" stroke="#1e63a8" stroke-width="1.3"/>
<circle cx="154.1" cy="412.8" r="2.75" fill="none" stroke="#1e63a8" stroke-width="1.3"/>
<circle cx="143.1" cy="417.5" r="2.75" fill="none" stroke="#1e63a8" stroke-width="1.3"/>
<circle cx="154.1" cy="419.1" r="2.75" fill="none" stroke="#1e63a8" stroke-width="1.3"/>
<circle cx="165.0" cy="417.5" r="2.75" fill="none" stroke="#1e63a8" stroke-width="1.3"/>
<circle cx="143.1" cy="432.2" r="2.75" fill="none" stroke="#1e63a8" stroke-width="1.3"/>
<circle cx="154.1" cy="439.2" r="2.75" fill="none" stroke="#1e63a8" stroke-width="1.3"/>
<circle cx="165.0" cy="437.3" r="2.75" fill="none" stroke="#1e63a8" stroke-width="1.3"/>
<circle cx="154.1" cy="452.8" r="2.75" fill="none" stroke="#1e63a8" stroke-width="1.3"/>
<line x1="154.1" y1="385.5" x2="154.1" y2="438.7" stroke="#231f20" stroke-width="1.5"/>
<line x1="146.7" y1="385.5" x2="161.5" y2="385.5" stroke="#231f20" stroke-width="1.5"/>
<line x1="146.7" y1="438.7" x2="161.5" y2="438.7" stroke="#231f20" stroke-width="1.5"/>
<line x1="139.9" y1="411.9" x2="168.29999999999998" y2="411.9" stroke="#231f20" stroke-width="1.5"/>
<line x1="220.1" y1="324.3" x2="220.1" y2="456.3" stroke="#8c8c8c" stroke-width="1"/>
<line x1="220.1" y1="456.3" x2="359.5" y2="456.3" stroke="#8c8c8c" stroke-width="1"/>
<line x1="216.6" y1="324.5" x2="220.1" y2="324.5" stroke="#8c8c8c" stroke-width="1"/>
<text x="213.1" y="328.1" font-size="10" fill="#231f20" text-anchor="end" >20</text>
<line x1="216.6" y1="357.4" x2="220.1" y2="357.4" stroke="#8c8c8c" stroke-width="1"/>
<text x="213.1" y="361.0" font-size="10" fill="#231f20" text-anchor="end" >15</text>
<line x1="216.6" y1="390.6" x2="220.1" y2="390.6" stroke="#8c8c8c" stroke-width="1"/>
<text x="213.1" y="394.20000000000005" font-size="10" fill="#231f20" text-anchor="end" >10</text>
<line x1="216.6" y1="423.6" x2="220.1" y2="423.6" stroke="#8c8c8c" stroke-width="1"/>
<text x="213.1" y="427.20000000000005" font-size="10" fill="#231f20" text-anchor="end" >5</text>
<line x1="216.6" y1="456.3" x2="220.1" y2="456.3" stroke="#8c8c8c" stroke-width="1"/>
<text x="213.1" y="459.90000000000003" font-size="10" fill="#231f20" text-anchor="end" >0</text>
<line x1="248.1" y1="456.3" x2="248.1" y2="459.3" stroke="#b0b0b0" stroke-width="0.8"/>
<line x1="290.6" y1="456.3" x2="290.6" y2="459.3" stroke="#b0b0b0" stroke-width="0.8"/>
<line x1="332.2" y1="456.3" x2="332.2" y2="459.3" stroke="#b0b0b0" stroke-width="0.8"/>
<text x="248.1" y="470.9" font-size="10" fill="#231f20" text-anchor="middle" >GG</text>
<text x="290.6" y="470.9" font-size="10" fill="#231f20" text-anchor="middle" >GA</text>
<text x="332.2" y="470.9" font-size="10" fill="#231f20" text-anchor="middle" >AA</text>
<text x="290.6" y="486.9" font-size="10" fill="#231f20" text-anchor="middle" >RVA</text>
<text x="236.7" y="325.3" font-size="10" fill="#231f20" word-spacing="0.3"><tspan font-style="italic">β</tspan> = 3.5, <tspan font-style="italic">P</tspan> = 1.64 × 10<tspan dy="-4.3" font-size="7">−3</tspan></text>
<circle cx="236.9" cy="425.2" r="2.75" fill="none" stroke="#231f20" stroke-width="1.3"/>
<circle cx="244.3" cy="422.9" r="2.75" fill="none" stroke="#231f20" stroke-width="1.3"/>
<circle cx="251.6" cy="424.5" r="2.75" fill="none" stroke="#231f20" stroke-width="1.3"/>
<circle cx="259.1" cy="423.8" r="2.75" fill="none" stroke="#231f20" stroke-width="1.3"/>
<line x1="248.1" y1="423.2" x2="248.1" y2="425.4" stroke="#231f20" stroke-width="1.5"/>
<line x1="242.1" y1="423.2" x2="254.1" y2="423.2" stroke="#231f20" stroke-width="1.5"/>
<line x1="242.1" y1="425.4" x2="254.1" y2="425.4" stroke="#231f20" stroke-width="1.5"/>
<line x1="236.1" y1="424.3" x2="260.1" y2="424.3" stroke="#231f20" stroke-width="1.5"/>
<circle cx="290.6" cy="346.2" r="2.75" fill="none" stroke="#a4202b" stroke-width="1.3"/>
<circle cx="278.9" cy="387.1" r="2.75" fill="none" stroke="#a4202b" stroke-width="1.3"/>
<circle cx="284.8" cy="384.8" r="2.75" fill="none" stroke="#a4202b" stroke-width="1.3"/>
<circle cx="290.6" cy="387.1" r="2.75" fill="none" stroke="#a4202b" stroke-width="1.3"/>
<circle cx="296.0" cy="385.2" r="2.75" fill="none" stroke="#a4202b" stroke-width="1.3"/>
<circle cx="301.8" cy="386.4" r="2.75" fill="none" stroke="#a4202b" stroke-width="1.3"/>
<circle cx="278.9" cy="393.4" r="2.75" fill="none" stroke="#a4202b" stroke-width="1.3"/>
<circle cx="284.8" cy="390.6" r="2.75" fill="none" stroke="#a4202b" stroke-width="1.3"/>
<circle cx="296.0" cy="392.2" r="2.75" fill="none" stroke="#a4202b" stroke-width="1.3"/>
<circle cx="301.8" cy="392.2" r="2.75" fill="none" stroke="#a4202b" stroke-width="1.3"/>
<circle cx="296.0" cy="399.5" r="2.75" fill="none" stroke="#a4202b" stroke-width="1.3"/>
<circle cx="284.8" cy="405.8" r="2.75" fill="none" stroke="#a4202b" stroke-width="1.3"/>
<circle cx="290.6" cy="403.0" r="2.75" fill="none" stroke="#a4202b" stroke-width="1.3"/>
<circle cx="301.8" cy="403.0" r="2.75" fill="none" stroke="#a4202b" stroke-width="1.3"/>
<circle cx="296.0" cy="406.3" r="2.75" fill="none" stroke="#a4202b" stroke-width="1.3"/>
<circle cx="284.8" cy="411.6" r="2.75" fill="none" stroke="#a4202b" stroke-width="1.3"/>
<line x1="290.6" y1="384.8" x2="290.6" y2="400" stroke="#231f20" stroke-width="1.5"/>
<line x1="283.6" y1="384.8" x2="297.6" y2="384.8" stroke="#231f20" stroke-width="1.5"/>
<line x1="283.6" y1="400" x2="297.6" y2="400" stroke="#231f20" stroke-width="1.5"/>
<line x1="276.40000000000003" y1="392.2" x2="304.8" y2="392.2" stroke="#231f20" stroke-width="1.5"/>
<circle cx="332.2" cy="338.7" r="2.75" fill="none" stroke="#1e63a8" stroke-width="1.3"/>
<circle cx="321.0" cy="355.1" r="2.75" fill="none" stroke="#1e63a8" stroke-width="1.3"/>
<circle cx="332.2" cy="355.1" r="2.75" fill="none" stroke="#1e63a8" stroke-width="1.3"/>
<circle cx="343.4" cy="355.1" r="2.75" fill="none" stroke="#1e63a8" stroke-width="1.3"/>
<circle cx="332.2" cy="363.7" r="2.75" fill="none" stroke="#1e63a8" stroke-width="1.3"/>
<circle cx="321.0" cy="370.3" r="2.75" fill="none" stroke="#1e63a8" stroke-width="1.3"/>
<circle cx="332.2" cy="370.3" r="2.75" fill="none" stroke="#1e63a8" stroke-width="1.3"/>
<circle cx="343.4" cy="371.9" r="2.75" fill="none" stroke="#1e63a8" stroke-width="1.3"/>
<circle cx="332.2" cy="393.6" r="2.75" fill="none" stroke="#1e63a8" stroke-width="1.3"/>
<circle cx="332.2" cy="456.3" r="2.75" fill="none" stroke="#1e63a8" stroke-width="1.3"/>
<line x1="332.2" y1="349.7" x2="332.2" y2="396.4" stroke="#231f20" stroke-width="1.5"/>
<line x1="324.59999999999997" y1="349.7" x2="339.8" y2="349.7" stroke="#231f20" stroke-width="1.5"/>
<line x1="324.59999999999997" y1="396.4" x2="339.8" y2="396.4" stroke="#231f20" stroke-width="1.5"/>
<line x1="318.0" y1="373.1" x2="346.4" y2="373.1" stroke="#231f20" stroke-width="1.5"/>
<line x1="395.9" y1="324.3" x2="395.9" y2="456.3" stroke="#8c8c8c" stroke-width="1"/>
<line x1="395.9" y1="456.3" x2="535.4" y2="456.3" stroke="#8c8c8c" stroke-width="1"/>
<line x1="392.4" y1="324.5" x2="395.9" y2="324.5" stroke="#8c8c8c" stroke-width="1"/>
<text x="388.9" y="328.1" font-size="10" fill="#231f20" text-anchor="end" >20</text>
<line x1="392.4" y1="357.4" x2="395.9" y2="357.4" stroke="#8c8c8c" stroke-width="1"/>
<text x="388.9" y="361.0" font-size="10" fill="#231f20" text-anchor="end" >15</text>
<line x1="392.4" y1="390.6" x2="395.9" y2="390.6" stroke="#8c8c8c" stroke-width="1"/>
<text x="388.9" y="394.20000000000005" font-size="10" fill="#231f20" text-anchor="end" >10</text>
<line x1="392.4" y1="423.6" x2="395.9" y2="423.6" stroke="#8c8c8c" stroke-width="1"/>
<text x="388.9" y="427.20000000000005" font-size="10" fill="#231f20" text-anchor="end" >5</text>
<line x1="392.4" y1="456.3" x2="395.9" y2="456.3" stroke="#8c8c8c" stroke-width="1"/>
<text x="388.9" y="459.90000000000003" font-size="10" fill="#231f20" text-anchor="end" >0</text>
<line x1="423.9" y1="456.3" x2="423.9" y2="459.3" stroke="#b0b0b0" stroke-width="0.8"/>
<line x1="466.4" y1="456.3" x2="466.4" y2="459.3" stroke="#b0b0b0" stroke-width="0.8"/>
<line x1="508" y1="456.3" x2="508" y2="459.3" stroke="#b0b0b0" stroke-width="0.8"/>
<text x="423.9" y="470.9" font-size="10" fill="#231f20" text-anchor="middle" >GG</text>
<text x="466.4" y="470.9" font-size="10" fill="#231f20" text-anchor="middle" >GA</text>
<text x="508" y="470.9" font-size="10" fill="#231f20" text-anchor="middle" >AA</text>
<text x="466.4" y="486.9" font-size="10" fill="#231f20" text-anchor="middle" >RVC</text>
<text x="412.7" y="325.3" font-size="10" fill="#231f20" word-spacing="0.3"><tspan font-style="italic">β</tspan> = 4.2, <tspan font-style="italic">P</tspan> = 3.26 × 10<tspan dy="-4.3" font-size="7">−6</tspan></text>
<circle cx="418.6" cy="415.8" r="2.75" fill="none" stroke="#231f20" stroke-width="1.3"/>
<circle cx="429.5" cy="415.8" r="2.75" fill="none" stroke="#231f20" stroke-width="1.3"/>
<circle cx="429.5" cy="423.8" r="2.75" fill="none" stroke="#231f20" stroke-width="1.3"/>
<circle cx="418.6" cy="429.2" r="2.75" fill="none" stroke="#231f20" stroke-width="1.3"/>
<line x1="423.9" y1="410.5" x2="423.9" y2="431.5" stroke="#231f20" stroke-width="1.5"/>
<line x1="416.9" y1="410.5" x2="430.9" y2="410.5" stroke="#231f20" stroke-width="1.5"/>
<line x1="416.9" y1="431.5" x2="430.9" y2="431.5" stroke="#231f20" stroke-width="1.5"/>
<line x1="409.9" y1="421" x2="437.9" y2="421" stroke="#231f20" stroke-width="1.5"/>
<circle cx="466.0" cy="369.6" r="2.75" fill="none" stroke="#a4202b" stroke-width="1.3"/>
<circle cx="464.1" cy="384.8" r="2.75" fill="none" stroke="#a4202b" stroke-width="1.3"/>
<circle cx="468.3" cy="384.8" r="2.75" fill="none" stroke="#a4202b" stroke-width="1.3"/>
<circle cx="462.2" cy="392.9" r="2.75" fill="none" stroke="#a4202b" stroke-width="1.3"/>
<circle cx="469.3" cy="394.6" r="2.75" fill="none" stroke="#a4202b" stroke-width="1.3"/>
<circle cx="454.8" cy="403.5" r="2.75" fill="none" stroke="#a4202b" stroke-width="1.3"/>
<circle cx="459.0" cy="403.5" r="2.75" fill="none" stroke="#a4202b" stroke-width="1.3"/>
<circle cx="463.0" cy="401.6" r="2.75" fill="none" stroke="#a4202b" stroke-width="1.3"/>
<circle cx="477.7" cy="400.0" r="2.75" fill="none" stroke="#a4202b" stroke-width="1.3"/>
<circle cx="466.4" cy="405.8" r="2.75" fill="none" stroke="#a4202b" stroke-width="1.3"/>
<circle cx="473.5" cy="405.3" r="2.75" fill="none" stroke="#a4202b" stroke-width="1.3"/>
<circle cx="470.0" cy="403.5" r="2.75" fill="none" stroke="#a4202b" stroke-width="1.3"/>
<circle cx="468.3" cy="418.6" r="2.75" fill="none" stroke="#a4202b" stroke-width="1.3"/>
<circle cx="464.1" cy="421.7" r="2.75" fill="none" stroke="#a4202b" stroke-width="1.3"/>
<circle cx="458.3" cy="403.0" r="2.75" fill="none" stroke="#a4202b" stroke-width="1.3"/>
<circle cx="471.1" cy="402.3" r="2.75" fill="none" stroke="#a4202b" stroke-width="1.3"/>
<line x1="466.4" y1="391.8" x2="466.4" y2="405.8" stroke="#231f20" stroke-width="1.5"/>
<line x1="459.4" y1="391.8" x2="473.4" y2="391.8" stroke="#231f20" stroke-width="1.5"/>
<line x1="459.4" y1="405.8" x2="473.4" y2="405.8" stroke="#231f20" stroke-width="1.5"/>
<line x1="452.4" y1="398.8" x2="480.4" y2="398.8" stroke="#231f20" stroke-width="1.5"/>
<circle cx="504.5" cy="340.4" r="2.75" fill="none" stroke="#1e63a8" stroke-width="1.3"/>
<circle cx="512.0" cy="340.4" r="2.75" fill="none" stroke="#1e63a8" stroke-width="1.3"/>
<circle cx="504.5" cy="347.4" r="2.75" fill="none" stroke="#1e63a8" stroke-width="1.3"/>
<circle cx="512.0" cy="347.4" r="2.75" fill="none" stroke="#1e63a8" stroke-width="1.3"/>
<circle cx="512.0" cy="373.8" r="2.75" fill="none" stroke="#1e63a8" stroke-width="1.3"/>
<circle cx="504.5" cy="378.9" r="2.75" fill="none" stroke="#1e63a8" stroke-width="1.3"/>
<circle cx="504.5" cy="386.6" r="2.75" fill="none" stroke="#1e63a8" stroke-width="1.3"/>
<circle cx="497.3" cy="391.8" r="2.75" fill="none" stroke="#1e63a8" stroke-width="1.3"/>
<circle cx="512.0" cy="390.6" r="2.75" fill="none" stroke="#1e63a8" stroke-width="1.3"/>
<circle cx="519.5" cy="390.6" r="2.75" fill="none" stroke="#1e63a8" stroke-width="1.3"/>
<line x1="508" y1="352.8" x2="508" y2="384.8" stroke="#231f20" stroke-width="1.5"/>
<line x1="500.2" y1="352.8" x2="515.8" y2="352.8" stroke="#231f20" stroke-width="1.5"/>
<line x1="500.2" y1="384.8" x2="515.8" y2="384.8" stroke="#231f20" stroke-width="1.5"/>
<line x1="494" y1="368.9" x2="522" y2="368.9" stroke="#231f20" stroke-width="1.5"/>
<text x="552.7" y="349.7" font-size="10" fill="#231f20" text-anchor="start" >rs1131454</text>
<text x="552.7" y="362.2" font-size="10" fill="#231f20" text-anchor="start" >GG, <tspan font-style="italic">n</tspan> = 4</text>
<text x="552.7" y="374.7" font-size="10" fill="#231f20" text-anchor="start" >GA, <tspan font-style="italic">n</tspan> = 16</text>
<text x="552.7" y="387.2" font-size="10" fill="#231f20" text-anchor="start" >AA, <tspan font-style="italic">n</tspan> = 10</text>
<text x="2.2" y="514.7" font-size="12.5" fill="#231f20" text-anchor="start" font-weight="bold">c</text>
<text x="14.3" y="583.5" font-size="10" fill="#231f20" text-anchor="middle" transform="rotate(-90 14.3 583.5)">AJ2 splicing, %</text>
<line x1="39.8" y1="517.5" x2="39.8" y2="649.5" stroke="#8c8c8c" stroke-width="1"/>
<line x1="39.8" y1="649.5" x2="179.5" y2="649.5" stroke="#8c8c8c" stroke-width="1"/>
<line x1="36.3" y1="517.5" x2="39.8" y2="517.5" stroke="#8c8c8c" stroke-width="1"/>
<text x="32.8" y="521.1" font-size="10" fill="#231f20" text-anchor="end" >15</text>
<line x1="36.3" y1="558.6" x2="39.8" y2="558.6" stroke="#8c8c8c" stroke-width="1"/>
<text x="32.8" y="562.2" font-size="10" fill="#231f20" text-anchor="end" >10</text>
<line x1="36.3" y1="600" x2="39.8" y2="600" stroke="#8c8c8c" stroke-width="1"/>
<text x="32.8" y="603.6" font-size="10" fill="#231f20" text-anchor="end" >5</text>
<line x1="36.3" y1="641.1" x2="39.8" y2="641.1" stroke="#8c8c8c" stroke-width="1"/>
<text x="32.8" y="644.7" font-size="10" fill="#231f20" text-anchor="end" >0</text>
<line x1="68.1" y1="649.5" x2="68.1" y2="652.5" stroke="#b0b0b0" stroke-width="0.8"/>
<line x1="109.9" y1="649.5" x2="109.9" y2="652.5" stroke="#b0b0b0" stroke-width="0.8"/>
<line x1="152" y1="649.5" x2="152" y2="652.5" stroke="#b0b0b0" stroke-width="0.8"/>
<text x="68.1" y="664.6" font-size="10" fill="#231f20" text-anchor="middle" >GG</text>
<text x="109.9" y="664.6" font-size="10" fill="#231f20" text-anchor="middle" >GA</text>
<text x="152" y="664.6" font-size="10" fill="#231f20" text-anchor="middle" >AA</text>
<text x="109.9" y="680" font-size="10" fill="#231f20" text-anchor="middle" >Mock</text>
<text x="57" y="520.4" font-size="10" fill="#231f20" word-spacing="0.3"><tspan font-style="italic">β</tspan> = 0.9, <tspan font-style="italic">P</tspan> = 2.02 × 10<tspan dy="-4.3" font-size="7">−1</tspan></text>
<circle cx="68.1" cy="622.6" r="2.75" fill="none" stroke="#231f20" stroke-width="1.3"/>
<circle cx="68.1" cy="632.0" r="2.75" fill="none" stroke="#231f20" stroke-width="1.3"/>
<circle cx="62.7" cy="641.1" r="2.75" fill="none" stroke="#231f20" stroke-width="1.3"/>
<circle cx="73.7" cy="641.1" r="2.75" fill="none" stroke="#231f20" stroke-width="1.3"/>
<line x1="68.1" y1="619.8" x2="68.1" y2="648.6" stroke="#231f20" stroke-width="1.5"/>
<line x1="60.49999999999999" y1="619.8" x2="75.69999999999999" y2="619.8" stroke="#231f20" stroke-width="1.5"/>
<line x1="60.49999999999999" y1="648.6" x2="75.69999999999999" y2="648.6" stroke="#231f20" stroke-width="1.5"/>
<line x1="54.39999999999999" y1="634.1" x2="81.8" y2="634.1" stroke="#231f20" stroke-width="1.5"/>
<circle cx="109.9" cy="546.7" r="2.75" fill="none" stroke="#a4202b" stroke-width="1.3"/>
<circle cx="109.9" cy="598.1" r="2.75" fill="none" stroke="#a4202b" stroke-width="1.3"/>
<circle cx="109.9" cy="606.5" r="2.75" fill="none" stroke="#a4202b" stroke-width="1.3"/>
<circle cx="116.0" cy="611.2" r="2.75" fill="none" stroke="#a4202b" stroke-width="1.3"/>
<circle cx="109.9" cy="614.0" r="2.75" fill="none" stroke="#a4202b" stroke-width="1.3"/>
<circle cx="98.9" cy="622.9" r="2.75" fill="none" stroke="#a4202b" stroke-width="1.3"/>
<circle cx="104.3" cy="624.5" r="2.75" fill="none" stroke="#a4202b" stroke-width="1.3"/>
<circle cx="109.9" cy="622.1" r="2.75" fill="none" stroke="#a4202b" stroke-width="1.3"/>
<circle cx="115.7" cy="624.5" r="2.75" fill="none" stroke="#a4202b" stroke-width="1.3"/>
<circle cx="121.1" cy="621.0" r="2.75" fill="none" stroke="#a4202b" stroke-width="1.3"/>
<circle cx="109.9" cy="633.8" r="2.75" fill="none" stroke="#a4202b" stroke-width="1.3"/>
<circle cx="98.5" cy="641.1" r="2.75" fill="none" stroke="#a4202b" stroke-width="1.3"/>
<circle cx="104.3" cy="641.1" r="2.75" fill="none" stroke="#a4202b" stroke-width="1.3"/>
<circle cx="109.9" cy="641.1" r="2.75" fill="none" stroke="#a4202b" stroke-width="1.3"/>
<circle cx="115.7" cy="641.1" r="2.75" fill="none" stroke="#a4202b" stroke-width="1.3"/>
<circle cx="121.1" cy="641.1" r="2.75" fill="none" stroke="#a4202b" stroke-width="1.3"/>
<line x1="109.9" y1="607.7" x2="109.9" y2="633.4" stroke="#231f20" stroke-width="1.5"/>
<line x1="102.30000000000001" y1="607.7" x2="117.5" y2="607.7" stroke="#231f20" stroke-width="1.5"/>
<line x1="102.30000000000001" y1="633.4" x2="117.5" y2="633.4" stroke="#231f20" stroke-width="1.5"/>
<line x1="95.7" y1="620.5" x2="124.10000000000001" y2="620.5" stroke="#231f20" stroke-width="1.5"/>
<circle cx="146.1" cy="592.5" r="2.75" fill="none" stroke="#1e63a8" stroke-width="1.3"/>
<circle cx="157.3" cy="591.3" r="2.75" fill="none" stroke="#1e63a8" stroke-width="1.3"/>
<circle cx="141.0" cy="607.2" r="2.75" fill="none" stroke="#1e63a8" stroke-width="1.3"/>
<circle cx="163.2" cy="610.5" r="2.75" fill="none" stroke="#1e63a8" stroke-width="1.3"/>
<circle cx="152.0" cy="615.6" r="2.75" fill="none" stroke="#1e63a8" stroke-width="1.3"/>
<circle cx="146.1" cy="624.5" r="2.75" fill="none" stroke="#1e63a8" stroke-width="1.3"/>
<circle cx="157.3" cy="626.1" r="2.75" fill="none" stroke="#1e63a8" stroke-width="1.3"/>
<circle cx="141.0" cy="641.1" r="2.75" fill="none" stroke="#1e63a8" stroke-width="1.3"/>
<circle cx="152.0" cy="641.1" r="2.75" fill="none" stroke="#1e63a8" stroke-width="1.3"/>
<circle cx="163.2" cy="641.1" r="2.75" fill="none" stroke="#1e63a8" stroke-width="1.3"/>
<line x1="152" y1="605.3" x2="152" y2="632.7" stroke="#231f20" stroke-width="1.5"/>
<line x1="144.4" y1="605.3" x2="159.6" y2="605.3" stroke="#231f20" stroke-width="1.5"/>
<line x1="144.4" y1="632.7" x2="159.6" y2="632.7" stroke="#231f20" stroke-width="1.5"/>
<line x1="138" y1="619.1" x2="166" y2="619.1" stroke="#231f20" stroke-width="1.5"/>
<line x1="211.2" y1="517.5" x2="211.2" y2="649.3" stroke="#8c8c8c" stroke-width="1"/>
<line x1="211.2" y1="649.3" x2="350.7" y2="649.3" stroke="#8c8c8c" stroke-width="1"/>
<line x1="207.7" y1="517.5" x2="211.2" y2="517.5" stroke="#8c8c8c" stroke-width="1"/>
<text x="204.2" y="521.1" font-size="10" fill="#231f20" text-anchor="end" >6</text>
<line x1="207.7" y1="561.4" x2="211.2" y2="561.4" stroke="#8c8c8c" stroke-width="1"/>
<text x="204.2" y="565.0" font-size="10" fill="#231f20" text-anchor="end" >4</text>
<line x1="207.7" y1="605.3" x2="211.2" y2="605.3" stroke="#8c8c8c" stroke-width="1"/>
<text x="204.2" y="608.9" font-size="10" fill="#231f20" text-anchor="end" >2</text>
<line x1="207.7" y1="649.3" x2="211.2" y2="649.3" stroke="#8c8c8c" stroke-width="1"/>
<text x="204.2" y="652.9" font-size="10" fill="#231f20" text-anchor="end" >0</text>
<line x1="239.3" y1="649.3" x2="239.3" y2="652.3" stroke="#b0b0b0" stroke-width="0.8"/>
<line x1="281.3" y1="649.3" x2="281.3" y2="652.3" stroke="#b0b0b0" stroke-width="0.8"/>
<line x1="323.4" y1="649.3" x2="323.4" y2="652.3" stroke="#b0b0b0" stroke-width="0.8"/>
<text x="239.3" y="664.6" font-size="10" fill="#231f20" text-anchor="middle" >GG</text>
<text x="281.3" y="664.6" font-size="10" fill="#231f20" text-anchor="middle" >GA</text>
<text x="323.4" y="664.6" font-size="10" fill="#231f20" text-anchor="middle" >AA</text>
<text x="281.3" y="680" font-size="10" fill="#231f20" text-anchor="middle" >RVA</text>
<text x="228.5" y="520.4" font-size="10" fill="#231f20" word-spacing="0.3"><tspan font-style="italic">β</tspan> = 1.0, <tspan font-style="italic">P</tspan> = 2.22 × 10<tspan dy="-4.3" font-size="7">−4</tspan></text>
<circle cx="233.4" cy="610.5" r="2.75" fill="none" stroke="#231f20" stroke-width="1.3"/>
<circle cx="245.6" cy="608.1" r="2.75" fill="none" stroke="#231f20" stroke-width="1.3"/>
<circle cx="239.3" cy="617.9" r="2.75" fill="none" stroke="#231f20" stroke-width="1.3"/>
<circle cx="239.3" cy="625.7" r="2.75" fill="none" stroke="#231f20" stroke-width="1.3"/>
<line x1="239.3" y1="603" x2="239.3" y2="628" stroke="#231f20" stroke-width="1.5"/>
<line x1="232.0" y1="603" x2="246.60000000000002" y2="603" stroke="#231f20" stroke-width="1.5"/>
<line x1="232.0" y1="628" x2="246.60000000000002" y2="628" stroke="#231f20" stroke-width="1.5"/>
<line x1="225.3" y1="615.6" x2="253.3" y2="615.6" stroke="#231f20" stroke-width="1.5"/>
<circle cx="274.3" cy="570.3" r="2.75" fill="none" stroke="#a4202b" stroke-width="1.3"/>
<circle cx="283.4" cy="570.3" r="2.75" fill="none" stroke="#a4202b" stroke-width="1.3"/>
<circle cx="288.3" cy="573.6" r="2.75" fill="none" stroke="#a4202b" stroke-width="1.3"/>
<circle cx="283.4" cy="578.9" r="2.75" fill="none" stroke="#a4202b" stroke-width="1.3"/>
<circle cx="283.4" cy="585.2" r="2.75" fill="none" stroke="#a4202b" stroke-width="1.3"/>
<circle cx="274.3" cy="591.3" r="2.75" fill="none" stroke="#a4202b" stroke-width="1.3"/>
<circle cx="281.3" cy="594.1" r="2.75" fill="none" stroke="#a4202b" stroke-width="1.3"/>
<circle cx="283.4" cy="596.4" r="2.75" fill="none" stroke="#a4202b" stroke-width="1.3"/>
<circle cx="275.2" cy="603.0" r="2.75" fill="none" stroke="#a4202b" stroke-width="1.3"/>
<circle cx="281.3" cy="603.0" r="2.75" fill="none" stroke="#a4202b" stroke-width="1.3"/>
<circle cx="270.1" cy="606.5" r="2.75" fill="none" stroke="#a4202b" stroke-width="1.3"/>
<circle cx="287.1" cy="606.5" r="2.75" fill="none" stroke="#a4202b" stroke-width="1.3"/>
<circle cx="292.8" cy="606.5" r="2.75" fill="none" stroke="#a4202b" stroke-width="1.3"/>
<circle cx="278.7" cy="607.7" r="2.75" fill="none" stroke="#a4202b" stroke-width="1.3"/>
<circle cx="281.3" cy="614.0" r="2.75" fill="none" stroke="#a4202b" stroke-width="1.3"/>
<circle cx="281.3" cy="626.4" r="2.75" fill="none" stroke="#a4202b" stroke-width="1.3"/>
<line x1="281.3" y1="587.1" x2="281.3" y2="604.6" stroke="#231f20" stroke-width="1.5"/>
<line x1="274.1" y1="587.1" x2="288.5" y2="587.1" stroke="#231f20" stroke-width="1.5"/>
<line x1="274.1" y1="604.6" x2="288.5" y2="604.6" stroke="#231f20" stroke-width="1.5"/>
<line x1="267.3" y1="596" x2="295.3" y2="596" stroke="#231f20" stroke-width="1.5"/>
<circle cx="323.4" cy="532.7" r="2.75" fill="none" stroke="#1e63a8" stroke-width="1.3"/>
<circle cx="323.4" cy="539.2" r="2.75" fill="none" stroke="#1e63a8" stroke-width="1.3"/>
<circle cx="323.4" cy="551.6" r="2.75" fill="none" stroke="#1e63a8" stroke-width="1.3"/>
<circle cx="323.4" cy="557.9" r="2.75" fill="none" stroke="#1e63a8" stroke-width="1.3"/>
<circle cx="329.2" cy="566.5" r="2.75" fill="none" stroke="#1e63a8" stroke-width="1.3"/>
<circle cx="317.5" cy="571.2" r="2.75" fill="none" stroke="#1e63a8" stroke-width="1.3"/>
<circle cx="329.2" cy="575.9" r="2.75" fill="none" stroke="#1e63a8" stroke-width="1.3"/>
<circle cx="317.5" cy="584.8" r="2.75" fill="none" stroke="#1e63a8" stroke-width="1.3"/>
<circle cx="329.2" cy="585.9" r="2.75" fill="none" stroke="#1e63a8" stroke-width="1.3"/>
<circle cx="323.4" cy="649.3" r="2.75" fill="none" stroke="#1e63a8" stroke-width="1.3"/>
<line x1="323.4" y1="547.9" x2="323.4" y2="594.6" stroke="#231f20" stroke-width="1.5"/>
<line x1="315.79999999999995" y1="547.9" x2="331.0" y2="547.9" stroke="#231f20" stroke-width="1.5"/>
<line x1="315.79999999999995" y1="594.6" x2="331.0" y2="594.6" stroke="#231f20" stroke-width="1.5"/>
<line x1="309.4" y1="571.2" x2="337.4" y2="571.2" stroke="#231f20" stroke-width="1.5"/>
<line x1="386.2" y1="517.5" x2="386.2" y2="649.3" stroke="#8c8c8c" stroke-width="1"/>
<line x1="386.2" y1="649.3" x2="527.3" y2="649.3" stroke="#8c8c8c" stroke-width="1"/>
<line x1="382.7" y1="517.5" x2="386.2" y2="517.5" stroke="#8c8c8c" stroke-width="1"/>
<text x="379.2" y="521.1" font-size="10" fill="#231f20" text-anchor="end" >6</text>
<line x1="382.7" y1="561.4" x2="386.2" y2="561.4" stroke="#8c8c8c" stroke-width="1"/>
<text x="379.2" y="565.0" font-size="10" fill="#231f20" text-anchor="end" >4</text>
<line x1="382.7" y1="605.3" x2="386.2" y2="605.3" stroke="#8c8c8c" stroke-width="1"/>
<text x="379.2" y="608.9" font-size="10" fill="#231f20" text-anchor="end" >2</text>
<line x1="382.7" y1="649.3" x2="386.2" y2="649.3" stroke="#8c8c8c" stroke-width="1"/>
<text x="379.2" y="652.9" font-size="10" fill="#231f20" text-anchor="end" >0</text>
<line x1="415.2" y1="649.3" x2="415.2" y2="652.3" stroke="#b0b0b0" stroke-width="0.8"/>
<line x1="457.2" y1="649.3" x2="457.2" y2="652.3" stroke="#b0b0b0" stroke-width="0.8"/>
<line x1="499.3" y1="649.3" x2="499.3" y2="652.3" stroke="#b0b0b0" stroke-width="0.8"/>
<text x="415.2" y="664.6" font-size="10" fill="#231f20" text-anchor="middle" >GG</text>
<text x="457.2" y="664.6" font-size="10" fill="#231f20" text-anchor="middle" >GA</text>
<text x="499.3" y="664.6" font-size="10" fill="#231f20" text-anchor="middle" >AA</text>
<text x="457.2" y="680" font-size="10" fill="#231f20" text-anchor="middle" >RVC</text>
<text x="404.5" y="520.4" font-size="10" fill="#231f20" word-spacing="0.3"><tspan font-style="italic">β</tspan> = 0.8, <tspan font-style="italic">P</tspan> = 3.67 × 10<tspan dy="-4.3" font-size="7">−4</tspan></text>
<circle cx="409.3" cy="592.2" r="2.75" fill="none" stroke="#231f20" stroke-width="1.3"/>
<circle cx="421.0" cy="591.3" r="2.75" fill="none" stroke="#231f20" stroke-width="1.3"/>
<circle cx="421.0" cy="618.2" r="2.75" fill="none" stroke="#231f20" stroke-width="1.3"/>
<circle cx="409.3" cy="622.1" r="2.75" fill="none" stroke="#231f20" stroke-width="1.3"/>
<line x1="415.2" y1="579.6" x2="415.2" y2="632" stroke="#231f20" stroke-width="1.5"/>
<line x1="407.59999999999997" y1="579.6" x2="422.8" y2="579.6" stroke="#231f20" stroke-width="1.5"/>
<line x1="407.59999999999997" y1="632" x2="422.8" y2="632" stroke="#231f20" stroke-width="1.5"/>
<line x1="401.2" y1="605.8" x2="429.2" y2="605.8" stroke="#231f20" stroke-width="1.5"/>
<circle cx="454.4" cy="570.3" r="2.75" fill="none" stroke="#a4202b" stroke-width="1.3"/>
<circle cx="460.3" cy="573.1" r="2.75" fill="none" stroke="#a4202b" stroke-width="1.3"/>
<circle cx="457.2" cy="581.3" r="2.75" fill="none" stroke="#a4202b" stroke-width="1.3"/>
<circle cx="446.3" cy="588.3" r="2.75" fill="none" stroke="#a4202b" stroke-width="1.3"/>
<circle cx="452.1" cy="590.6" r="2.75" fill="none" stroke="#a4202b" stroke-width="1.3"/>
<circle cx="468.5" cy="588.3" r="2.75" fill="none" stroke="#a4202b" stroke-width="1.3"/>
<circle cx="462.6" cy="592.2" r="2.75" fill="none" stroke="#a4202b" stroke-width="1.3"/>
<circle cx="446.3" cy="596.0" r="2.75" fill="none" stroke="#a4202b" stroke-width="1.3"/>
<circle cx="457.2" cy="595.3" r="2.75" fill="none" stroke="#a4202b" stroke-width="1.3"/>
<circle cx="463.3" cy="598.3" r="2.75" fill="none" stroke="#a4202b" stroke-width="1.3"/>
<circle cx="451.6" cy="603.0" r="2.75" fill="none" stroke="#a4202b" stroke-width="1.3"/>
<circle cx="462.6" cy="604.6" r="2.75" fill="none" stroke="#a4202b" stroke-width="1.3"/>
<circle cx="457.2" cy="607.7" r="2.75" fill="none" stroke="#a4202b" stroke-width="1.3"/>
<circle cx="451.6" cy="614.4" r="2.75" fill="none" stroke="#a4202b" stroke-width="1.3"/>
<circle cx="462.6" cy="613.3" r="2.75" fill="none" stroke="#a4202b" stroke-width="1.3"/>
<circle cx="457.2" cy="600.0" r="2.75" fill="none" stroke="#a4202b" stroke-width="1.3"/>
<line x1="457.2" y1="587.8" x2="457.2" y2="601.1" stroke="#231f20" stroke-width="1.5"/>
<line x1="450.0" y1="587.8" x2="464.4" y2="587.8" stroke="#231f20" stroke-width="1.5"/>
<line x1="450.0" y1="601.1" x2="464.4" y2="601.1" stroke="#231f20" stroke-width="1.5"/>
<line x1="443.2" y1="594.1" x2="471.2" y2="594.1" stroke="#231f20" stroke-width="1.5"/>
<circle cx="499.3" cy="534.1" r="2.75" fill="none" stroke="#1e63a8" stroke-width="1.3"/>
<circle cx="488.3" cy="557.9" r="2.75" fill="none" stroke="#1e63a8" stroke-width="1.3"/>
<circle cx="495.3" cy="561.9" r="2.75" fill="none" stroke="#1e63a8" stroke-width="1.3"/>
<circle cx="503.0" cy="560.9" r="2.75" fill="none" stroke="#1e63a8" stroke-width="1.3"/>
<circle cx="510.0" cy="562.6" r="2.75" fill="none" stroke="#1e63a8" stroke-width="1.3"/>
<circle cx="499.3" cy="573.1" r="2.75" fill="none" stroke="#1e63a8" stroke-width="1.3"/>
<circle cx="491.8" cy="584.3" r="2.75" fill="none" stroke="#1e63a8" stroke-width="1.3"/>
<circle cx="499.3" cy="585.2" r="2.75" fill="none" stroke="#1e63a8" stroke-width="1.3"/>
<circle cx="506.5" cy="584.3" r="2.75" fill="none" stroke="#1e63a8" stroke-width="1.3"/>
<circle cx="499.3" cy="594.6" r="2.75" fill="none" stroke="#1e63a8" stroke-width="1.3"/>
<line x1="499.3" y1="557.2" x2="499.3" y2="582.9" stroke="#231f20" stroke-width="1.5"/>
<line x1="491.7" y1="557.2" x2="506.90000000000003" y2="557.2" stroke="#231f20" stroke-width="1.5"/>
<line x1="491.7" y1="582.9" x2="506.90000000000003" y2="582.9" stroke="#231f20" stroke-width="1.5"/>
<line x1="485.3" y1="570" x2="513.3" y2="570" stroke="#231f20" stroke-width="1.5"/>
<text x="551.8" y="549.2" font-size="10" fill="#231f20" text-anchor="start" >rs1131454</text>
<text x="551.8" y="561.1" font-size="10" fill="#231f20" text-anchor="start" >GG, <tspan font-style="italic">n</tspan> = 4</text>
<text x="551.8" y="573.0" font-size="10" fill="#231f20" text-anchor="start" >GA, <tspan font-style="italic">n</tspan> = 16</text>
<text x="551.8" y="584.9000000000001" font-size="10" fill="#231f20" text-anchor="start" >AA, <tspan font-style="italic">n</tspan> = 10</text>
<text x="2.2" y="705.5" font-size="12.5" fill="#231f20" text-anchor="start" font-weight="bold">d</text>
<text x="14.3" y="769.5" font-size="10" fill="#231f20" text-anchor="middle" transform="rotate(-90 14.3 769.5)">AJ1 splicing, %</text>
<line x1="38.5" y1="708.1" x2="38.5" y2="830.8" stroke="#8c8c8c" stroke-width="1"/>
<line x1="38.5" y1="830.8" x2="169.3" y2="830.8" stroke="#8c8c8c" stroke-width="1"/>
<line x1="35.0" y1="708.1" x2="38.5" y2="708.1" stroke="#8c8c8c" stroke-width="1"/>
<text x="31.5" y="711.7" font-size="10" fill="#231f20" text-anchor="end" >15</text>
<line x1="35.0" y1="749" x2="38.5" y2="749" stroke="#8c8c8c" stroke-width="1"/>
<text x="31.5" y="752.6" font-size="10" fill="#231f20" text-anchor="end" >10</text>
<line x1="35.0" y1="789.9" x2="38.5" y2="789.9" stroke="#8c8c8c" stroke-width="1"/>
<text x="31.5" y="793.5" font-size="10" fill="#231f20" text-anchor="end" >5</text>
<line x1="35.0" y1="830.8" x2="38.5" y2="830.8" stroke="#8c8c8c" stroke-width="1"/>
<text x="31.5" y="834.4" font-size="10" fill="#231f20" text-anchor="end" >0</text>
<line x1="65.2" y1="830.8" x2="65.2" y2="833.8" stroke="#b0b0b0" stroke-width="0.8"/>
<line x1="104.1" y1="830.8" x2="104.1" y2="833.8" stroke="#b0b0b0" stroke-width="0.8"/>
<line x1="142.8" y1="830.8" x2="142.8" y2="833.8" stroke="#b0b0b0" stroke-width="0.8"/>
<text x="65.2" y="844.5" font-size="10" fill="#231f20" text-anchor="middle" >GG</text>
<text x="104.1" y="844.5" font-size="10" fill="#231f20" text-anchor="middle" >GA</text>
<text x="142.8" y="844.5" font-size="10" fill="#231f20" text-anchor="middle" >AA</text>
<text x="65.2" y="856.5" font-size="10" fill="#231f20" text-anchor="middle" >23</text>
<text x="104.1" y="856.5" font-size="10" fill="#231f20" text-anchor="middle" >46</text>
<text x="142.8" y="856.5" font-size="10" fill="#231f20" text-anchor="middle" >31</text>
<text x="104.1" y="871.6" font-size="10" fill="#231f20" text-anchor="middle" >COVID-19</text>
<text x="51.8" y="713.3" font-size="10" fill="#231f20" word-spacing="0.3"><tspan font-style="italic">β</tspan> = 0.9, <tspan font-style="italic">P</tspan> = 1.36 × 10<tspan dy="-4.3" font-size="7">−3</tspan></text>
<text x="34.5" y="856.5" font-size="10" fill="#231f20" text-anchor="middle" font-style="italic">n</text>
<circle cx="65.0" cy="749.4" r="2.5" fill="none" stroke="#231f20" stroke-width="1.1"/>
<circle cx="63.0" cy="786.1" r="2.5" fill="none" stroke="#231f20" stroke-width="1.1"/>
<circle cx="65.8" cy="785.5" r="2.5" fill="none" stroke="#231f20" stroke-width="1.1"/>
<circle cx="66.0" cy="787.4" r="2.5" fill="none" stroke="#231f20" stroke-width="1.1"/>
<circle cx="65.0" cy="792.5" r="2.5" fill="none" stroke="#231f20" stroke-width="1.1"/>
<circle cx="53.6" cy="800.8" r="2.5" fill="none" stroke="#231f20" stroke-width="1.1"/>
<circle cx="59.5" cy="800.8" r="2.5" fill="none" stroke="#231f20" stroke-width="1.1"/>
<circle cx="65.3" cy="800.4" r="2.5" fill="none" stroke="#231f20" stroke-width="1.1"/>
<circle cx="71.3" cy="801.2" r="2.5" fill="none" stroke="#231f20" stroke-width="1.1"/>
<circle cx="77.2" cy="801.1" r="2.5" fill="none" stroke="#231f20" stroke-width="1.1"/>
<circle cx="56.8" cy="804.1" r="2.5" fill="none" stroke="#231f20" stroke-width="1.1"/>
<circle cx="62.6" cy="804.7" r="2.5" fill="none" stroke="#231f20" stroke-width="1.1"/>
<circle cx="67.9" cy="804.0" r="2.5" fill="none" stroke="#231f20" stroke-width="1.1"/>
<circle cx="74.0" cy="804.6" r="2.5" fill="none" stroke="#231f20" stroke-width="1.1"/>
<circle cx="61.4" cy="809.1" r="2.5" fill="none" stroke="#231f20" stroke-width="1.1"/>
<circle cx="65.4" cy="809.1" r="2.5" fill="none" stroke="#231f20" stroke-width="1.1"/>
<circle cx="69.1" cy="809.0" r="2.5" fill="none" stroke="#231f20" stroke-width="1.1"/>
<circle cx="59.2" cy="813.1" r="2.5" fill="none" stroke="#231f20" stroke-width="1.1"/>
<circle cx="65.5" cy="812.1" r="2.5" fill="none" stroke="#231f20" stroke-width="1.1"/>
<circle cx="70.9" cy="812.3" r="2.5" fill="none" stroke="#231f20" stroke-width="1.1"/>
<circle cx="61.1" cy="816.7" r="2.5" fill="none" stroke="#231f20" stroke-width="1.1"/>
<circle cx="69.8" cy="816.6" r="2.5" fill="none" stroke="#231f20" stroke-width="1.1"/>
<circle cx="62.2" cy="820.5" r="2.5" fill="none" stroke="#231f20" stroke-width="1.1"/>
<circle cx="68.1" cy="820.7" r="2.5" fill="none" stroke="#231f20" stroke-width="1.1"/>
<circle cx="65.3" cy="827.9" r="2.5" fill="none" stroke="#231f20" stroke-width="1.1"/>
<line x1="65.2" y1="797.5" x2="65.2" y2="812" stroke="#231f20" stroke-width="1.5"/>
<line x1="58.5" y1="797.5" x2="71.9" y2="797.5" stroke="#231f20" stroke-width="1.5"/>
<line x1="58.5" y1="812" x2="71.9" y2="812" stroke="#231f20" stroke-width="1.5"/>
<line x1="58.2" y1="804.7" x2="72.2" y2="804.7" stroke="#231f20" stroke-width="1.5"/>
<circle cx="104.2" cy="780.1" r="2.5" fill="none" stroke="#a4202b" stroke-width="1.1"/>
<circle cx="104.3" cy="787.0" r="2.5" fill="none" stroke="#a4202b" stroke-width="1.1"/>
<circle cx="102.3" cy="790.1" r="2.5" fill="none" stroke="#a4202b" stroke-width="1.1"/>
<circle cx="105.7" cy="789.6" r="2.5" fill="none" stroke="#a4202b" stroke-width="1.1"/>
<circle cx="98.5" cy="793.8" r="2.5" fill="none" stroke="#a4202b" stroke-width="1.1"/>
<circle cx="104.4" cy="793.1" r="2.5" fill="none" stroke="#a4202b" stroke-width="1.1"/>
<circle cx="110.1" cy="793.3" r="2.5" fill="none" stroke="#a4202b" stroke-width="1.1"/>
<circle cx="97.1" cy="797.5" r="2.5" fill="none" stroke="#a4202b" stroke-width="1.1"/>
<circle cx="103.7" cy="797.1" r="2.5" fill="none" stroke="#a4202b" stroke-width="1.1"/>
<circle cx="110.9" cy="797.9" r="2.5" fill="none" stroke="#a4202b" stroke-width="1.1"/>
<circle cx="101.3" cy="798.4" r="2.5" fill="none" stroke="#a4202b" stroke-width="1.1"/>
<circle cx="107.3" cy="798.4" r="2.5" fill="none" stroke="#a4202b" stroke-width="1.1"/>
<circle cx="100.2" cy="800.8" r="2.5" fill="none" stroke="#a4202b" stroke-width="1.1"/>
<circle cx="107.7" cy="801.6" r="2.5" fill="none" stroke="#a4202b" stroke-width="1.1"/>
<circle cx="91.9" cy="804.9" r="2.5" fill="none" stroke="#a4202b" stroke-width="1.1"/>
<circle cx="97.3" cy="805.6" r="2.5" fill="none" stroke="#a4202b" stroke-width="1.1"/>
<circle cx="101.5" cy="805.8" r="2.5" fill="none" stroke="#a4202b" stroke-width="1.1"/>
<circle cx="106.5" cy="805.4" r="2.5" fill="none" stroke="#a4202b" stroke-width="1.1"/>
<circle cx="111.1" cy="805.7" r="2.5" fill="none" stroke="#a4202b" stroke-width="1.1"/>
<circle cx="116.3" cy="805.8" r="2.5" fill="none" stroke="#a4202b" stroke-width="1.1"/>
<circle cx="99.4" cy="808.6" r="2.5" fill="none" stroke="#a4202b" stroke-width="1.1"/>
<circle cx="104.0" cy="808.4" r="2.5" fill="none" stroke="#a4202b" stroke-width="1.1"/>
<circle cx="108.8" cy="808.3" r="2.5" fill="none" stroke="#a4202b" stroke-width="1.1"/>
<circle cx="91.9" cy="812.4" r="2.5" fill="none" stroke="#a4202b" stroke-width="1.1"/>
<circle cx="96.5" cy="812.5" r="2.5" fill="none" stroke="#a4202b" stroke-width="1.1"/>
<circle cx="101.6" cy="812.1" r="2.5" fill="none" stroke="#a4202b" stroke-width="1.1"/>
<circle cx="106.8" cy="812.3" r="2.5" fill="none" stroke="#a4202b" stroke-width="1.1"/>
<circle cx="111.2" cy="812.3" r="2.5" fill="none" stroke="#a4202b" stroke-width="1.1"/>
<circle cx="116.3" cy="811.8" r="2.5" fill="none" stroke="#a4202b" stroke-width="1.1"/>
<circle cx="102.0" cy="814.6" r="2.5" fill="none" stroke="#a4202b" stroke-width="1.1"/>
<circle cx="106.8" cy="815.6" r="2.5" fill="none" stroke="#a4202b" stroke-width="1.1"/>
<circle cx="98.7" cy="817.3" r="2.5" fill="none" stroke="#a4202b" stroke-width="1.1"/>
<circle cx="104.0" cy="817.1" r="2.5" fill="none" stroke="#a4202b" stroke-width="1.1"/>
<circle cx="108.7" cy="816.5" r="2.5" fill="none" stroke="#a4202b" stroke-width="1.1"/>
<circle cx="98.8" cy="820.9" r="2.5" fill="none" stroke="#a4202b" stroke-width="1.1"/>
<circle cx="103.9" cy="820.7" r="2.5" fill="none" stroke="#a4202b" stroke-width="1.1"/>
<circle cx="109.4" cy="820.9" r="2.5" fill="none" stroke="#a4202b" stroke-width="1.1"/>
<circle cx="101.0" cy="824.0" r="2.5" fill="none" stroke="#a4202b" stroke-width="1.1"/>
<circle cx="107.1" cy="824.5" r="2.5" fill="none" stroke="#a4202b" stroke-width="1.1"/>
<circle cx="97.3" cy="830.8" r="2.5" fill="none" stroke="#a4202b" stroke-width="1.1"/>
<circle cx="100.0" cy="830.9" r="2.5" fill="none" stroke="#a4202b" stroke-width="1.1"/>
<circle cx="101.6" cy="831.0" r="2.5" fill="none" stroke="#a4202b" stroke-width="1.1"/>
<circle cx="103.8" cy="830.3" r="2.5" fill="none" stroke="#a4202b" stroke-width="1.1"/>
<circle cx="106.4" cy="831.0" r="2.5" fill="none" stroke="#a4202b" stroke-width="1.1"/>
<circle cx="108.3" cy="831.0" r="2.5" fill="none" stroke="#a4202b" stroke-width="1.1"/>
<circle cx="110.6" cy="830.3" r="2.5" fill="none" stroke="#a4202b" stroke-width="1.1"/>
<line x1="104.1" y1="804.8" x2="104.1" y2="812.4" stroke="#231f20" stroke-width="1.5"/>
<line x1="97.39999999999999" y1="804.8" x2="110.8" y2="804.8" stroke="#231f20" stroke-width="1.5"/>
<line x1="97.39999999999999" y1="812.4" x2="110.8" y2="812.4" stroke="#231f20" stroke-width="1.5"/>
<line x1="91.3" y1="808.9" x2="116.89999999999999" y2="808.9" stroke="#231f20" stroke-width="1.5"/>
<circle cx="142.7" cy="723.3" r="2.5" fill="none" stroke="#1e63a8" stroke-width="1.1"/>
<circle cx="142.9" cy="748.3" r="2.5" fill="none" stroke="#1e63a8" stroke-width="1.1"/>
<circle cx="140.8" cy="775.6" r="2.5" fill="none" stroke="#1e63a8" stroke-width="1.1"/>
<circle cx="144.4" cy="775.8" r="2.5" fill="none" stroke="#1e63a8" stroke-width="1.1"/>
<circle cx="139.9" cy="778.7" r="2.5" fill="none" stroke="#1e63a8" stroke-width="1.1"/>
<circle cx="145.0" cy="778.3" r="2.5" fill="none" stroke="#1e63a8" stroke-width="1.1"/>
<circle cx="142.7" cy="782.0" r="2.5" fill="none" stroke="#1e63a8" stroke-width="1.1"/>
<circle cx="130.5" cy="787.5" r="2.5" fill="none" stroke="#1e63a8" stroke-width="1.1"/>
<circle cx="135.7" cy="788.3" r="2.5" fill="none" stroke="#1e63a8" stroke-width="1.1"/>
<circle cx="140.5" cy="787.7" r="2.5" fill="none" stroke="#1e63a8" stroke-width="1.1"/>
<circle cx="145.6" cy="787.3" r="2.5" fill="none" stroke="#1e63a8" stroke-width="1.1"/>
<circle cx="150.3" cy="787.5" r="2.5" fill="none" stroke="#1e63a8" stroke-width="1.1"/>
<circle cx="154.5" cy="787.3" r="2.5" fill="none" stroke="#1e63a8" stroke-width="1.1"/>
<circle cx="130.6" cy="792.7" r="2.5" fill="none" stroke="#1e63a8" stroke-width="1.1"/>
<circle cx="135.3" cy="792.4" r="2.5" fill="none" stroke="#1e63a8" stroke-width="1.1"/>
<circle cx="140.5" cy="792.1" r="2.5" fill="none" stroke="#1e63a8" stroke-width="1.1"/>
<circle cx="145.2" cy="791.8" r="2.5" fill="none" stroke="#1e63a8" stroke-width="1.1"/>
<circle cx="149.6" cy="791.9" r="2.5" fill="none" stroke="#1e63a8" stroke-width="1.1"/>
<circle cx="154.9" cy="792.2" r="2.5" fill="none" stroke="#1e63a8" stroke-width="1.1"/>
<circle cx="139.7" cy="797.1" r="2.5" fill="none" stroke="#1e63a8" stroke-width="1.1"/>
<circle cx="145.8" cy="796.8" r="2.5" fill="none" stroke="#1e63a8" stroke-width="1.1"/>
<circle cx="141.0" cy="801.2" r="2.5" fill="none" stroke="#1e63a8" stroke-width="1.1"/>
<circle cx="144.6" cy="801.1" r="2.5" fill="none" stroke="#1e63a8" stroke-width="1.1"/>
<circle cx="139.8" cy="806.0" r="2.5" fill="none" stroke="#1e63a8" stroke-width="1.1"/>
<circle cx="146.0" cy="805.2" r="2.5" fill="none" stroke="#1e63a8" stroke-width="1.1"/>
<circle cx="139.2" cy="809.0" r="2.5" fill="none" stroke="#1e63a8" stroke-width="1.1"/>
<circle cx="142.7" cy="809.8" r="2.5" fill="none" stroke="#1e63a8" stroke-width="1.1"/>
<circle cx="146.5" cy="809.5" r="2.5" fill="none" stroke="#1e63a8" stroke-width="1.1"/>
<circle cx="139.4" cy="813.7" r="2.5" fill="none" stroke="#1e63a8" stroke-width="1.1"/>
<circle cx="146.0" cy="813.6" r="2.5" fill="none" stroke="#1e63a8" stroke-width="1.1"/>
<circle cx="143.1" cy="816.5" r="2.5" fill="none" stroke="#1e63a8" stroke-width="1.1"/>
<circle cx="142.0" cy="830.5" r="2.5" fill="none" stroke="#1e63a8" stroke-width="1.1"/>
<circle cx="142.9" cy="830.3" r="2.5" fill="none" stroke="#1e63a8" stroke-width="1.1"/>
<circle cx="144.1" cy="830.9" r="2.5" fill="none" stroke="#1e63a8" stroke-width="1.1"/>
<line x1="142.8" y1="784.1" x2="142.8" y2="799.2" stroke="#231f20" stroke-width="1.5"/>
<line x1="135.8" y1="784.1" x2="149.8" y2="784.1" stroke="#231f20" stroke-width="1.5"/>
<line x1="135.8" y1="799.2" x2="149.8" y2="799.2" stroke="#231f20" stroke-width="1.5"/>
<line x1="129.9" y1="791.1" x2="155.70000000000002" y2="791.1" stroke="#231f20" stroke-width="1.5"/>
<line x1="197.8" y1="708.6" x2="197.8" y2="830.7" stroke="#8c8c8c" stroke-width="1"/>
<line x1="197.8" y1="830.7" x2="326.4" y2="830.7" stroke="#8c8c8c" stroke-width="1"/>
<line x1="194.3" y1="708.6" x2="197.8" y2="708.6" stroke="#8c8c8c" stroke-width="1"/>
<text x="190.8" y="712.2" font-size="10" fill="#231f20" text-anchor="end" >15</text>
<line x1="194.3" y1="749.1" x2="197.8" y2="749.1" stroke="#8c8c8c" stroke-width="1"/>
<text x="190.8" y="752.7" font-size="10" fill="#231f20" text-anchor="end" >10</text>
<line x1="194.3" y1="789.8" x2="197.8" y2="789.8" stroke="#8c8c8c" stroke-width="1"/>
<text x="190.8" y="793.4" font-size="10" fill="#231f20" text-anchor="end" >5</text>
<line x1="194.3" y1="830.7" x2="197.8" y2="830.7" stroke="#8c8c8c" stroke-width="1"/>
<text x="190.8" y="834.3000000000001" font-size="10" fill="#231f20" text-anchor="end" >0</text>
<line x1="223.4" y1="830.7" x2="223.4" y2="833.7" stroke="#b0b0b0" stroke-width="0.8"/>
<line x1="261.8" y1="830.7" x2="261.8" y2="833.7" stroke="#b0b0b0" stroke-width="0.8"/>
<line x1="301.1" y1="830.7" x2="301.1" y2="833.7" stroke="#b0b0b0" stroke-width="0.8"/>
<text x="223.4" y="845.3" font-size="10" fill="#231f20" text-anchor="middle" >GG</text>
<text x="261.8" y="845.3" font-size="10" fill="#231f20" text-anchor="middle" >GA</text>
<text x="301.1" y="845.3" font-size="10" fill="#231f20" text-anchor="middle" >AA</text>
<text x="223.4" y="857.2" font-size="10" fill="#231f20" text-anchor="middle" >5</text>
<text x="261.8" y="857.2" font-size="10" fill="#231f20" text-anchor="middle" >12</text>
<text x="301.1" y="857.2" font-size="10" fill="#231f20" text-anchor="middle" >8</text>
<text x="261.8" y="872" font-size="10" fill="#231f20" text-anchor="middle" >Control</text>
<text x="206" y="713.3" font-size="10" fill="#231f20" word-spacing="0.3"><tspan font-style="italic">β</tspan> = 0.17, <tspan font-style="italic">P</tspan> = 1.68 × 10<tspan dy="-4.3" font-size="7">−1</tspan></text>
<circle cx="223.4" cy="802.4" r="2.75" fill="none" stroke="#231f20" stroke-width="1.3"/>
<circle cx="217.7" cy="815.8" r="2.75" fill="none" stroke="#231f20" stroke-width="1.3"/>
<circle cx="229.1" cy="813.6" r="2.75" fill="none" stroke="#231f20" stroke-width="1.3"/>
<circle cx="229.1" cy="821.1" r="2.75" fill="none" stroke="#231f20" stroke-width="1.3"/>
<circle cx="217.7" cy="825.3" r="2.75" fill="none" stroke="#231f20" stroke-width="1.3"/>
<line x1="223.4" y1="804.7" x2="223.4" y2="826.5" stroke="#231f20" stroke-width="1.5"/>
<line x1="216.70000000000002" y1="804.7" x2="230.1" y2="804.7" stroke="#231f20" stroke-width="1.5"/>
<line x1="216.70000000000002" y1="826.5" x2="230.1" y2="826.5" stroke="#231f20" stroke-width="1.5"/>
<line x1="210.6" y1="815.8" x2="236.20000000000002" y2="815.8" stroke="#231f20" stroke-width="1.5"/>
<circle cx="261.8" cy="760.0" r="2.75" fill="none" stroke="#a4202b" stroke-width="1.3"/>
<circle cx="265.6" cy="768.7" r="2.75" fill="none" stroke="#a4202b" stroke-width="1.3"/>
<circle cx="258.6" cy="772.7" r="2.75" fill="none" stroke="#a4202b" stroke-width="1.3"/>
<circle cx="261.8" cy="780.6" r="2.75" fill="none" stroke="#a4202b" stroke-width="1.3"/>
<circle cx="251.9" cy="802.9" r="2.75" fill="none" stroke="#a4202b" stroke-width="1.3"/>
<circle cx="258.6" cy="804.2" r="2.75" fill="none" stroke="#a4202b" stroke-width="1.3"/>
<circle cx="265.6" cy="803.4" r="2.75" fill="none" stroke="#a4202b" stroke-width="1.3"/>
<circle cx="272.5" cy="799.2" r="2.75" fill="none" stroke="#a4202b" stroke-width="1.3"/>
<circle cx="261.8" cy="810.9" r="2.75" fill="none" stroke="#a4202b" stroke-width="1.3"/>
<circle cx="261.8" cy="823.3" r="2.75" fill="none" stroke="#a4202b" stroke-width="1.3"/>
<circle cx="258.6" cy="830.7" r="2.75" fill="none" stroke="#a4202b" stroke-width="1.3"/>
<circle cx="265.6" cy="830.7" r="2.75" fill="none" stroke="#a4202b" stroke-width="1.3"/>
<line x1="261.8" y1="783.6" x2="261.8" y2="814.1" stroke="#231f20" stroke-width="1.5"/>
<line x1="255.20000000000002" y1="783.6" x2="268.40000000000003" y2="783.6" stroke="#231f20" stroke-width="1.5"/>
<line x1="255.20000000000002" y1="814.1" x2="268.40000000000003" y2="814.1" stroke="#231f20" stroke-width="1.5"/>
<line x1="248.5" y1="798.7" x2="275.1" y2="798.7" stroke="#231f20" stroke-width="1.5"/>
<circle cx="301.1" cy="749.1" r="2.75" fill="none" stroke="#1e63a8" stroke-width="1.3"/>
<circle cx="301.1" cy="766.2" r="2.75" fill="none" stroke="#1e63a8" stroke-width="1.3"/>
<circle cx="301.1" cy="781.1" r="2.75" fill="none" stroke="#1e63a8" stroke-width="1.3"/>
<circle cx="301.1" cy="794.8" r="2.75" fill="none" stroke="#1e63a8" stroke-width="1.3"/>
<circle cx="295.3" cy="808.4" r="2.75" fill="none" stroke="#1e63a8" stroke-width="1.3"/>
<circle cx="306.5" cy="806.7" r="2.75" fill="none" stroke="#1e63a8" stroke-width="1.3"/>
<circle cx="306.5" cy="812.1" r="2.75" fill="none" stroke="#1e63a8" stroke-width="1.3"/>
<circle cx="301.1" cy="830.7" r="2.75" fill="none" stroke="#1e63a8" stroke-width="1.3"/>
<line x1="301.1" y1="771.4" x2="301.1" y2="815.8" stroke="#231f20" stroke-width="1.5"/>
<line x1="294.5" y1="771.4" x2="307.70000000000005" y2="771.4" stroke="#231f20" stroke-width="1.5"/>
<line x1="294.5" y1="815.8" x2="307.70000000000005" y2="815.8" stroke="#231f20" stroke-width="1.5"/>
<line x1="288.1" y1="793.5" x2="314.1" y2="793.5" stroke="#231f20" stroke-width="1.5"/>
<text x="341.2" y="705.6" font-size="12.5" fill="#231f20" text-anchor="start" font-weight="bold">e</text>
<text x="350.5" y="769.5" font-size="10" fill="#231f20" text-anchor="middle" transform="rotate(-90 350.5 769.5)">AJ2 splicing, %</text>
<line x1="373.4" y1="708.7" x2="373.4" y2="830.8" stroke="#8c8c8c" stroke-width="1"/>
<line x1="373.4" y1="830.8" x2="503.4" y2="830.8" stroke="#8c8c8c" stroke-width="1"/>
<line x1="369.9" y1="708.7" x2="373.4" y2="708.7" stroke="#8c8c8c" stroke-width="1"/>
<text x="366.4" y="712.3000000000001" font-size="10" fill="#231f20" text-anchor="end" >5</text>
<line x1="369.9" y1="733.1" x2="373.4" y2="733.1" stroke="#8c8c8c" stroke-width="1"/>
<text x="366.4" y="736.7" font-size="10" fill="#231f20" text-anchor="end" >4</text>
<line x1="369.9" y1="757.3" x2="373.4" y2="757.3" stroke="#8c8c8c" stroke-width="1"/>
<text x="366.4" y="760.9" font-size="10" fill="#231f20" text-anchor="end" >3</text>
<line x1="369.9" y1="781.7" x2="373.4" y2="781.7" stroke="#8c8c8c" stroke-width="1"/>
<text x="366.4" y="785.3000000000001" font-size="10" fill="#231f20" text-anchor="end" >2</text>
<line x1="369.9" y1="806.1" x2="373.4" y2="806.1" stroke="#8c8c8c" stroke-width="1"/>
<text x="366.4" y="809.7" font-size="10" fill="#231f20" text-anchor="end" >1</text>
<line x1="369.9" y1="830.3" x2="373.4" y2="830.3" stroke="#8c8c8c" stroke-width="1"/>
<text x="366.4" y="833.9" font-size="10" fill="#231f20" text-anchor="end" >0</text>
<line x1="399.6" y1="830.8" x2="399.6" y2="833.8" stroke="#b0b0b0" stroke-width="0.8"/>
<line x1="438.5" y1="830.8" x2="438.5" y2="833.8" stroke="#b0b0b0" stroke-width="0.8"/>
<line x1="477.2" y1="830.8" x2="477.2" y2="833.8" stroke="#b0b0b0" stroke-width="0.8"/>
<text x="399.6" y="845.3" font-size="10" fill="#231f20" text-anchor="middle" >GG</text>
<text x="438.5" y="845.3" font-size="10" fill="#231f20" text-anchor="middle" >GA</text>
<text x="477.2" y="845.3" font-size="10" fill="#231f20" text-anchor="middle" >AA</text>
<text x="399.6" y="856.6" font-size="10" fill="#231f20" text-anchor="middle" >23</text>
<text x="438.5" y="856.6" font-size="10" fill="#231f20" text-anchor="middle" >46</text>
<text x="477.2" y="856.6" font-size="10" fill="#231f20" text-anchor="middle" >31</text>
<text x="438.5" y="871.6" font-size="10" fill="#231f20" text-anchor="middle" >COVID-19</text>
<text x="383.4" y="713.3" font-size="10" fill="#231f20" word-spacing="0.3"><tspan font-style="italic">β</tspan> = 0.17, <tspan font-style="italic">P</tspan> = 2.02 × 10<tspan dy="-4.3" font-size="7">−1</tspan></text>
<text x="371" y="856.6" font-size="10" fill="#231f20" text-anchor="middle" font-style="italic">n</text>
<circle cx="399.5" cy="782.7" r="2.5" fill="none" stroke="#231f20" stroke-width="1.1"/>
<circle cx="397.5" cy="801.1" r="2.5" fill="none" stroke="#231f20" stroke-width="1.1"/>
<circle cx="401.0" cy="799.0" r="2.5" fill="none" stroke="#231f20" stroke-width="1.1"/>
<circle cx="404.0" cy="802.8" r="2.5" fill="none" stroke="#231f20" stroke-width="1.1"/>
<circle cx="400.6" cy="805.9" r="2.5" fill="none" stroke="#231f20" stroke-width="1.1"/>
<circle cx="394.8" cy="809.4" r="2.5" fill="none" stroke="#231f20" stroke-width="1.1"/>
<circle cx="407.5" cy="808.7" r="2.5" fill="none" stroke="#231f20" stroke-width="1.1"/>
<circle cx="400.0" cy="810.7" r="2.5" fill="none" stroke="#231f20" stroke-width="1.1"/>
<circle cx="404.0" cy="812.1" r="2.5" fill="none" stroke="#231f20" stroke-width="1.1"/>
<circle cx="395.1" cy="818.6" r="2.5" fill="none" stroke="#231f20" stroke-width="1.1"/>
<circle cx="403.7" cy="818.3" r="2.5" fill="none" stroke="#231f20" stroke-width="1.1"/>
<circle cx="398.6" cy="819.7" r="2.5" fill="none" stroke="#231f20" stroke-width="1.1"/>
<circle cx="400.6" cy="821.7" r="2.5" fill="none" stroke="#231f20" stroke-width="1.1"/>
<circle cx="388.9" cy="824.1" r="2.5" fill="none" stroke="#231f20" stroke-width="1.1"/>
<circle cx="392.0" cy="825.5" r="2.5" fill="none" stroke="#231f20" stroke-width="1.1"/>
<circle cx="397.9" cy="826.5" r="2.5" fill="none" stroke="#231f20" stroke-width="1.1"/>
<circle cx="388.9" cy="830.3" r="2.5" fill="none" stroke="#231f20" stroke-width="1.1"/>
<circle cx="394.8" cy="830.3" r="2.5" fill="none" stroke="#231f20" stroke-width="1.1"/>
<circle cx="400.6" cy="830.3" r="2.5" fill="none" stroke="#231f20" stroke-width="1.1"/>
<circle cx="403.1" cy="830.3" r="2.5" fill="none" stroke="#231f20" stroke-width="1.1"/>
<circle cx="405.6" cy="830.3" r="2.5" fill="none" stroke="#231f20" stroke-width="1.1"/>
<circle cx="408.1" cy="830.3" r="2.5" fill="none" stroke="#231f20" stroke-width="1.1"/>
<circle cx="410.4" cy="830.3" r="2.5" fill="none" stroke="#231f20" stroke-width="1.1"/>
<circle cx="438.5" cy="731.4" r="2.5" fill="none" stroke="#a4202b" stroke-width="1.1"/>
<circle cx="438.2" cy="734.9" r="2.5" fill="none" stroke="#a4202b" stroke-width="1.1"/>
<circle cx="438.1" cy="754.4" r="2.5" fill="none" stroke="#a4202b" stroke-width="1.1"/>
<circle cx="437.8" cy="754.9" r="2.5" fill="none" stroke="#a4202b" stroke-width="1.1"/>
<circle cx="438.5" cy="767.8" r="2.5" fill="none" stroke="#a4202b" stroke-width="1.1"/>
<circle cx="438.1" cy="783.5" r="2.5" fill="none" stroke="#a4202b" stroke-width="1.1"/>
<circle cx="438.7" cy="790.4" r="2.5" fill="none" stroke="#a4202b" stroke-width="1.1"/>
<circle cx="437.2" cy="792.6" r="2.5" fill="none" stroke="#a4202b" stroke-width="1.1"/>
<circle cx="439.8" cy="792.5" r="2.5" fill="none" stroke="#a4202b" stroke-width="1.1"/>
<circle cx="436.5" cy="797.0" r="2.5" fill="none" stroke="#a4202b" stroke-width="1.1"/>
<circle cx="440.6" cy="796.8" r="2.5" fill="none" stroke="#a4202b" stroke-width="1.1"/>
<circle cx="435.9" cy="800.3" r="2.5" fill="none" stroke="#a4202b" stroke-width="1.1"/>
<circle cx="440.7" cy="799.7" r="2.5" fill="none" stroke="#a4202b" stroke-width="1.1"/>
<circle cx="435.6" cy="803.8" r="2.5" fill="none" stroke="#a4202b" stroke-width="1.1"/>
<circle cx="438.4" cy="803.0" r="2.5" fill="none" stroke="#a4202b" stroke-width="1.1"/>
<circle cx="441.3" cy="803.2" r="2.5" fill="none" stroke="#a4202b" stroke-width="1.1"/>
<circle cx="434.3" cy="807.4" r="2.5" fill="none" stroke="#a4202b" stroke-width="1.1"/>
<circle cx="438.3" cy="807.5" r="2.5" fill="none" stroke="#a4202b" stroke-width="1.1"/>
<circle cx="442.8" cy="806.5" r="2.5" fill="none" stroke="#a4202b" stroke-width="1.1"/>
<circle cx="433.4" cy="810.5" r="2.5" fill="none" stroke="#a4202b" stroke-width="1.1"/>
<circle cx="438.1" cy="810.4" r="2.5" fill="none" stroke="#a4202b" stroke-width="1.1"/>
<circle cx="443.8" cy="810.0" r="2.5" fill="none" stroke="#a4202b" stroke-width="1.1"/>
<circle cx="433.6" cy="813.5" r="2.5" fill="none" stroke="#a4202b" stroke-width="1.1"/>
<circle cx="436.9" cy="814.5" r="2.5" fill="none" stroke="#a4202b" stroke-width="1.1"/>
<circle cx="439.9" cy="813.4" r="2.5" fill="none" stroke="#a4202b" stroke-width="1.1"/>
<circle cx="443.2" cy="814.0" r="2.5" fill="none" stroke="#a4202b" stroke-width="1.1"/>
<circle cx="433.1" cy="817.0" r="2.5" fill="none" stroke="#a4202b" stroke-width="1.1"/>
<circle cx="436.8" cy="818.0" r="2.5" fill="none" stroke="#a4202b" stroke-width="1.1"/>
<circle cx="440.1" cy="817.4" r="2.5" fill="none" stroke="#a4202b" stroke-width="1.1"/>
<circle cx="443.6" cy="817.0" r="2.5" fill="none" stroke="#a4202b" stroke-width="1.1"/>
<circle cx="434.6" cy="820.6" r="2.5" fill="none" stroke="#a4202b" stroke-width="1.1"/>
<circle cx="438.6" cy="821.5" r="2.5" fill="none" stroke="#a4202b" stroke-width="1.1"/>
<circle cx="442.1" cy="821.1" r="2.5" fill="none" stroke="#a4202b" stroke-width="1.1"/>
<circle cx="436.1" cy="823.6" r="2.5" fill="none" stroke="#a4202b" stroke-width="1.1"/>
<circle cx="440.8" cy="824.6" r="2.5" fill="none" stroke="#a4202b" stroke-width="1.1"/>
<circle cx="429.7" cy="824.7" r="2.5" fill="none" stroke="#a4202b" stroke-width="1.1"/>
<circle cx="427.7" cy="830.8" r="2.5" fill="none" stroke="#a4202b" stroke-width="1.1"/>
<circle cx="428.8" cy="830.4" r="2.5" fill="none" stroke="#a4202b" stroke-width="1.1"/>
<circle cx="430.1" cy="830.1" r="2.5" fill="none" stroke="#a4202b" stroke-width="1.1"/>
<circle cx="432.0" cy="830.4" r="2.5" fill="none" stroke="#a4202b" stroke-width="1.1"/>
<circle cx="433.6" cy="829.8" r="2.5" fill="none" stroke="#a4202b" stroke-width="1.1"/>
<circle cx="434.7" cy="830.7" r="2.5" fill="none" stroke="#a4202b" stroke-width="1.1"/>
<circle cx="436.4" cy="830.2" r="2.5" fill="none" stroke="#a4202b" stroke-width="1.1"/>
<circle cx="437.7" cy="830.9" r="2.5" fill="none" stroke="#a4202b" stroke-width="1.1"/>
<circle cx="439.3" cy="829.7" r="2.5" fill="none" stroke="#a4202b" stroke-width="1.1"/>
<circle cx="440.9" cy="830.1" r="2.5" fill="none" stroke="#a4202b" stroke-width="1.1"/>
<circle cx="442.1" cy="830.0" r="2.5" fill="none" stroke="#a4202b" stroke-width="1.1"/>
<circle cx="443.6" cy="830.1" r="2.5" fill="none" stroke="#a4202b" stroke-width="1.1"/>
<circle cx="444.8" cy="830.5" r="2.5" fill="none" stroke="#a4202b" stroke-width="1.1"/>
<circle cx="446.2" cy="830.6" r="2.5" fill="none" stroke="#a4202b" stroke-width="1.1"/>
<circle cx="447.7" cy="830.6" r="2.5" fill="none" stroke="#a4202b" stroke-width="1.1"/>
<circle cx="449.7" cy="830.3" r="2.5" fill="none" stroke="#a4202b" stroke-width="1.1"/>
<line x1="438.5" y1="802.4" x2="438.5" y2="817.4" stroke="#231f20" stroke-width="1.5"/>
<line x1="431.2" y1="802.4" x2="445.8" y2="802.4" stroke="#231f20" stroke-width="1.5"/>
<line x1="431.2" y1="817.4" x2="445.8" y2="817.4" stroke="#231f20" stroke-width="1.5"/>
<line x1="432.0" y1="810" x2="445.0" y2="810" stroke="#231f20" stroke-width="1.5"/>
<circle cx="477.2" cy="733.1" r="2.5" fill="none" stroke="#1e63a8" stroke-width="1.1"/>
<circle cx="477.5" cy="755.4" r="2.5" fill="none" stroke="#1e63a8" stroke-width="1.1"/>
<circle cx="477.2" cy="766.5" r="2.5" fill="none" stroke="#1e63a8" stroke-width="1.1"/>
<circle cx="466.4" cy="830.3" r="2.5" fill="none" stroke="#1e63a8" stroke-width="1.1"/>
<circle cx="469.1" cy="830.7" r="2.5" fill="none" stroke="#1e63a8" stroke-width="1.1"/>
<circle cx="471.0" cy="830.1" r="2.5" fill="none" stroke="#1e63a8" stroke-width="1.1"/>
<circle cx="473.4" cy="830.7" r="2.5" fill="none" stroke="#1e63a8" stroke-width="1.1"/>
<circle cx="476.2" cy="829.8" r="2.5" fill="none" stroke="#1e63a8" stroke-width="1.1"/>
<circle cx="478.8" cy="830.9" r="2.5" fill="none" stroke="#1e63a8" stroke-width="1.1"/>
<circle cx="480.8" cy="830.4" r="2.5" fill="none" stroke="#1e63a8" stroke-width="1.1"/>
<circle cx="482.8" cy="829.7" r="2.5" fill="none" stroke="#1e63a8" stroke-width="1.1"/>
<circle cx="485.4" cy="829.8" r="2.5" fill="none" stroke="#1e63a8" stroke-width="1.1"/>
<circle cx="487.5" cy="830.0" r="2.5" fill="none" stroke="#1e63a8" stroke-width="1.1"/>
<circle cx="477.6" cy="785.7" r="2.5" fill="none" stroke="#1e63a8" stroke-width="1.1"/>
<circle cx="479.3" cy="788.4" r="2.5" fill="none" stroke="#1e63a8" stroke-width="1.1"/>
<circle cx="475.9" cy="792.5" r="2.5" fill="none" stroke="#1e63a8" stroke-width="1.1"/>
<circle cx="478.6" cy="795.3" r="2.5" fill="none" stroke="#1e63a8" stroke-width="1.1"/>
<circle cx="476.2" cy="797.3" r="2.5" fill="none" stroke="#1e63a8" stroke-width="1.1"/>
<circle cx="473.1" cy="805.9" r="2.5" fill="none" stroke="#1e63a8" stroke-width="1.1"/>
<circle cx="475.2" cy="807.3" r="2.5" fill="none" stroke="#1e63a8" stroke-width="1.1"/>
<circle cx="481.4" cy="805.2" r="2.5" fill="none" stroke="#1e63a8" stroke-width="1.1"/>
<circle cx="480.0" cy="808.0" r="2.5" fill="none" stroke="#1e63a8" stroke-width="1.1"/>
<circle cx="472.4" cy="808.7" r="2.5" fill="none" stroke="#1e63a8" stroke-width="1.1"/>
<circle cx="471.1" cy="815.5" r="2.5" fill="none" stroke="#1e63a8" stroke-width="1.1"/>
<circle cx="473.8" cy="818.3" r="2.5" fill="none" stroke="#1e63a8" stroke-width="1.1"/>
<circle cx="476.6" cy="821.7" r="2.5" fill="none" stroke="#1e63a8" stroke-width="1.1"/>
<circle cx="480.7" cy="816.2" r="2.5" fill="none" stroke="#1e63a8" stroke-width="1.1"/>
<circle cx="483.4" cy="814.5" r="2.5" fill="none" stroke="#1e63a8" stroke-width="1.1"/>
<circle cx="478.6" cy="819.0" r="2.5" fill="none" stroke="#1e63a8" stroke-width="1.1"/>
<circle cx="469.3" cy="825.9" r="2.5" fill="none" stroke="#1e63a8" stroke-width="1.1"/>
<line x1="477.2" y1="800" x2="477.2" y2="817.6" stroke="#231f20" stroke-width="1.5"/>
<line x1="470.8" y1="800" x2="483.59999999999997" y2="800" stroke="#231f20" stroke-width="1.5"/>
<line x1="470.8" y1="817.6" x2="483.59999999999997" y2="817.6" stroke="#231f20" stroke-width="1.5"/>
<line x1="464.4" y1="808.5" x2="490.0" y2="808.5" stroke="#231f20" stroke-width="1.5"/>
<line x1="528.6" y1="708.7" x2="528.6" y2="830.3" stroke="#8c8c8c" stroke-width="1"/>
<line x1="528.6" y1="830.3" x2="657.9" y2="830.3" stroke="#8c8c8c" stroke-width="1"/>
<line x1="525.1" y1="708.7" x2="528.6" y2="708.7" stroke="#8c8c8c" stroke-width="1"/>
<text x="521.6" y="712.3000000000001" font-size="10" fill="#231f20" text-anchor="end" ></text>
<line x1="525.1" y1="724.4" x2="528.6" y2="724.4" stroke="#8c8c8c" stroke-width="1"/>
<text x="521.6" y="728.0" font-size="10" fill="#231f20" text-anchor="end" >4</text>
<line x1="525.1" y1="748.3" x2="528.6" y2="748.3" stroke="#8c8c8c" stroke-width="1"/>
<text x="521.6" y="751.9" font-size="10" fill="#231f20" text-anchor="end" >3</text>
<line x1="525.1" y1="773" x2="528.6" y2="773" stroke="#8c8c8c" stroke-width="1"/>
<text x="521.6" y="776.6" font-size="10" fill="#231f20" text-anchor="end" >2</text>
<line x1="525.1" y1="797.5" x2="528.6" y2="797.5" stroke="#8c8c8c" stroke-width="1"/>
<text x="521.6" y="801.1" font-size="10" fill="#231f20" text-anchor="end" >1</text>
<line x1="525.1" y1="821.6" x2="528.6" y2="821.6" stroke="#8c8c8c" stroke-width="1"/>
<text x="521.6" y="825.2" font-size="10" fill="#231f20" text-anchor="end" >0</text>
<line x1="554.4" y1="830.3" x2="554.4" y2="833.3" stroke="#b0b0b0" stroke-width="0.8"/>
<line x1="593.5" y1="830.3" x2="593.5" y2="833.3" stroke="#b0b0b0" stroke-width="0.8"/>
<line x1="632.4" y1="830.3" x2="632.4" y2="833.3" stroke="#b0b0b0" stroke-width="0.8"/>
<text x="554.4" y="845.3" font-size="10" fill="#231f20" text-anchor="middle" >GG</text>
<text x="593.5" y="845.3" font-size="10" fill="#231f20" text-anchor="middle" >GA</text>
<text x="632.4" y="845.3" font-size="10" fill="#231f20" text-anchor="middle" >AA</text>
<text x="554.4" y="856.6" font-size="10" fill="#231f20" text-anchor="middle" >5</text>
<text x="593.5" y="856.6" font-size="10" fill="#231f20" text-anchor="middle" >12</text>
<text x="632.4" y="856.6" font-size="10" fill="#231f20" text-anchor="middle" >8</text>
<text x="593.5" y="871.6" font-size="10" fill="#231f20" text-anchor="middle" >Control</text>
<text x="540.5" y="713.3" font-size="10" fill="#231f20" word-spacing="0.3"><tspan font-style="italic">β</tspan> = 0.6, <tspan font-style="italic">P</tspan> = 5.71 × 10<tspan dy="-4.3" font-size="7">−1</tspan></text>
<circle cx="544.4" cy="800.9" r="2.75" fill="none" stroke="#231f20" stroke-width="1.3"/>
<circle cx="554.9" cy="793.5" r="2.75" fill="none" stroke="#231f20" stroke-width="1.3"/>
<circle cx="564.9" cy="800.9" r="2.75" fill="none" stroke="#231f20" stroke-width="1.3"/>
<circle cx="554.9" cy="805.9" r="2.75" fill="none" stroke="#231f20" stroke-width="1.3"/>
<circle cx="549.1" cy="821.6" r="2.75" fill="none" stroke="#231f20" stroke-width="1.3"/>
<circle cx="559.7" cy="821.6" r="2.75" fill="none" stroke="#231f20" stroke-width="1.3"/>
<line x1="554.4" y1="794.8" x2="554.4" y2="821.6" stroke="#231f20" stroke-width="1.5"/>
<line x1="548.1999999999999" y1="794.8" x2="560.6" y2="794.8" stroke="#231f20" stroke-width="1.5"/>
<line x1="548.1999999999999" y1="821.6" x2="560.6" y2="821.6" stroke="#231f20" stroke-width="1.5"/>
<line x1="541.1999999999999" y1="807.5" x2="567.6" y2="807.5" stroke="#231f20" stroke-width="1.5"/>
<circle cx="598.3" cy="771.7" r="2.75" fill="none" stroke="#a4202b" stroke-width="1.3"/>
<circle cx="593.8" cy="775.9" r="2.75" fill="none" stroke="#a4202b" stroke-width="1.3"/>
<circle cx="593.8" cy="786.4" r="2.75" fill="none" stroke="#a4202b" stroke-width="1.3"/>
<circle cx="598.3" cy="794.8" r="2.75" fill="none" stroke="#a4202b" stroke-width="1.3"/>
<circle cx="593.8" cy="798.3" r="2.75" fill="none" stroke="#a4202b" stroke-width="1.3"/>
<circle cx="598.3" cy="805.9" r="2.75" fill="none" stroke="#a4202b" stroke-width="1.3"/>
<circle cx="593.8" cy="806.7" r="2.75" fill="none" stroke="#a4202b" stroke-width="1.3"/>
<circle cx="583.3" cy="821.6" r="2.75" fill="none" stroke="#a4202b" stroke-width="1.3"/>
<circle cx="588.6" cy="821.6" r="2.75" fill="none" stroke="#a4202b" stroke-width="1.3"/>
<circle cx="593.5" cy="821.6" r="2.75" fill="none" stroke="#a4202b" stroke-width="1.3"/>
<circle cx="598.8" cy="821.6" r="2.75" fill="none" stroke="#a4202b" stroke-width="1.3"/>
<circle cx="603.8" cy="821.6" r="2.75" fill="none" stroke="#a4202b" stroke-width="1.3"/>
<line x1="593.5" y1="792.2" x2="593.5" y2="815.9" stroke="#231f20" stroke-width="1.5"/>
<line x1="587.1" y1="792.2" x2="599.9" y2="792.2" stroke="#231f20" stroke-width="1.5"/>
<line x1="587.1" y1="815.9" x2="599.9" y2="815.9" stroke="#231f20" stroke-width="1.5"/>
<line x1="581.0" y1="803.5" x2="606.0" y2="803.5" stroke="#231f20" stroke-width="1.5"/>
<circle cx="632.4" cy="736.3" r="2.75" fill="none" stroke="#1e63a8" stroke-width="1.3"/>
<circle cx="632.4" cy="770.4" r="2.75" fill="none" stroke="#1e63a8" stroke-width="1.3"/>
<circle cx="632.4" cy="788.3" r="2.75" fill="none" stroke="#1e63a8" stroke-width="1.3"/>
<circle cx="632.4" cy="803.5" r="2.75" fill="none" stroke="#1e63a8" stroke-width="1.3"/>
<circle cx="621.9" cy="821.6" r="2.75" fill="none" stroke="#1e63a8" stroke-width="1.3"/>
<circle cx="627.2" cy="821.6" r="2.75" fill="none" stroke="#1e63a8" stroke-width="1.3"/>
<circle cx="632.4" cy="821.6" r="2.75" fill="none" stroke="#1e63a8" stroke-width="1.3"/>
<circle cx="637.7" cy="821.6" r="2.75" fill="none" stroke="#1e63a8" stroke-width="1.3"/>
<circle cx="642.9" cy="821.6" r="2.75" fill="none" stroke="#1e63a8" stroke-width="1.3"/>
<line x1="632.4" y1="771.7" x2="632.4" y2="824.3" stroke="#231f20" stroke-width="1.5"/>
<line x1="625.3" y1="771.7" x2="639.5" y2="771.7" stroke="#231f20" stroke-width="1.5"/>
<line x1="625.3" y1="824.3" x2="639.5" y2="824.3" stroke="#231f20" stroke-width="1.5"/>
<line x1="619.1999999999999" y1="798" x2="645.6" y2="798" stroke="#231f20" stroke-width="1.5"/>
</svg></body></html>
